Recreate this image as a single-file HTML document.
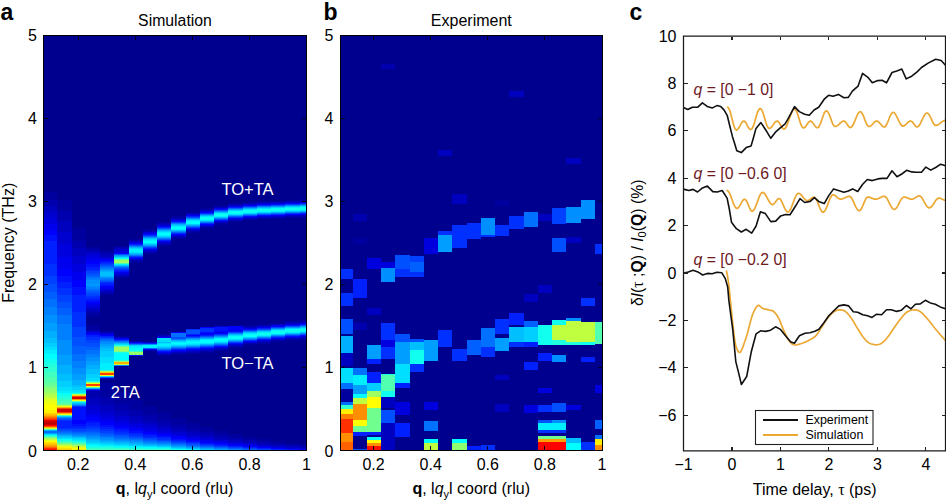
<!DOCTYPE html>
<html><head><meta charset="utf-8"><style>
html,body{margin:0;padding:0;background:#fff;width:946px;height:503px;overflow:hidden}
svg{display:block}
text{font-family:"Liberation Sans",sans-serif}
</style></head><body>
<svg width="946" height="503" viewBox="0 0 946 503" shape-rendering="crispEdges">
<rect x="43" y="35" width="264" height="416" fill="#00008f"/>
<rect x="43.00" y="192" width="14.25" height="8" fill="#00009f"/>
<rect x="43.00" y="200" width="14.25" height="6" fill="#0000af"/>
<rect x="43.00" y="206" width="14.25" height="6" fill="#0000bf"/>
<rect x="43.00" y="212" width="14.25" height="6" fill="#0000cf"/>
<rect x="43.00" y="218" width="14.25" height="6" fill="#0000df"/>
<rect x="43.00" y="224" width="14.25" height="6" fill="#0000ef"/>
<rect x="43.00" y="230" width="14.25" height="5" fill="#0000ff"/>
<rect x="43.00" y="235" width="14.25" height="6" fill="#0010ff"/>
<rect x="43.00" y="241" width="14.25" height="23" fill="#0020ff"/>
<rect x="43.00" y="264" width="14.25" height="12" fill="#0030ff"/>
<rect x="43.00" y="276" width="14.25" height="8" fill="#0040ff"/>
<rect x="43.00" y="284" width="14.25" height="8" fill="#0050ff"/>
<rect x="43.00" y="292" width="14.25" height="7" fill="#0060ff"/>
<rect x="43.00" y="299" width="14.25" height="8" fill="#0070ff"/>
<rect x="43.00" y="307" width="14.25" height="8" fill="#0080ff"/>
<rect x="43.00" y="315" width="14.25" height="8" fill="#008fff"/>
<rect x="43.00" y="323" width="14.25" height="8" fill="#009fff"/>
<rect x="43.00" y="331" width="14.25" height="7" fill="#00afff"/>
<rect x="43.00" y="338" width="14.25" height="5" fill="#00bfff"/>
<rect x="43.00" y="343" width="14.25" height="4" fill="#00cfff"/>
<rect x="43.00" y="347" width="14.25" height="3" fill="#00dfff"/>
<rect x="43.00" y="350" width="14.25" height="4" fill="#00efff"/>
<rect x="43.00" y="354" width="14.25" height="5" fill="#00ffff"/>
<rect x="43.00" y="359" width="14.25" height="4" fill="#10ffef"/>
<rect x="43.00" y="363" width="14.25" height="4" fill="#20ffdf"/>
<rect x="43.00" y="367" width="14.25" height="5" fill="#30ffcf"/>
<rect x="43.00" y="372" width="14.25" height="5" fill="#40ffbf"/>
<rect x="43.00" y="377" width="14.25" height="5" fill="#50ffaf"/>
<rect x="43.00" y="382" width="14.25" height="3" fill="#60ff9f"/>
<rect x="43.00" y="385" width="14.25" height="2" fill="#70ff8f"/>
<rect x="43.00" y="387" width="14.25" height="2" fill="#80ff80"/>
<rect x="43.00" y="389" width="14.25" height="3" fill="#8fff70"/>
<rect x="43.00" y="392" width="14.25" height="2" fill="#9fff60"/>
<rect x="43.00" y="394" width="14.25" height="2" fill="#afff50"/>
<rect x="43.00" y="396" width="14.25" height="2" fill="#bfff40"/>
<rect x="43.00" y="398" width="14.25" height="1" fill="#cfff30"/>
<rect x="43.00" y="399" width="14.25" height="2" fill="#dfff20"/>
<rect x="43.00" y="401" width="14.25" height="4" fill="#efff10"/>
<rect x="43.00" y="405" width="14.25" height="5" fill="#ffff00"/>
<rect x="43.00" y="410" width="14.25" height="3" fill="#ffef00"/>
<rect x="43.00" y="413" width="14.25" height="1" fill="#ffcf00"/>
<rect x="43.00" y="414" width="14.25" height="1" fill="#ffbf00"/>
<rect x="43.00" y="415" width="14.25" height="1" fill="#ffaf00"/>
<rect x="43.00" y="416" width="14.25" height="1" fill="#ff8f00"/>
<rect x="43.00" y="417" width="14.25" height="1" fill="#ff7000"/>
<rect x="43.00" y="418" width="14.25" height="1" fill="#ff5000"/>
<rect x="43.00" y="419" width="14.25" height="1" fill="#ff3000"/>
<rect x="43.00" y="420" width="14.25" height="1" fill="#ef0000"/>
<rect x="43.00" y="421" width="14.25" height="1" fill="#cf0000"/>
<rect x="43.00" y="422" width="14.25" height="2" fill="#bf0000"/>
<rect x="43.00" y="424" width="14.25" height="1" fill="#cf0000"/>
<rect x="43.00" y="425" width="14.25" height="1" fill="#ff0000"/>
<rect x="43.00" y="426" width="14.25" height="1" fill="#ff5000"/>
<rect x="43.00" y="427" width="14.25" height="1" fill="#ffaf00"/>
<rect x="43.00" y="428" width="14.25" height="1" fill="#cfff30"/>
<rect x="43.00" y="429" width="14.25" height="1" fill="#40ffbf"/>
<rect x="43.00" y="430" width="14.25" height="1" fill="#00afff"/>
<rect x="43.00" y="431" width="14.25" height="2" fill="#0070ff"/>
<rect x="43.00" y="433" width="14.25" height="1" fill="#009fff"/>
<rect x="43.00" y="434" width="14.25" height="1" fill="#00dfff"/>
<rect x="43.00" y="435" width="14.25" height="1" fill="#10ffef"/>
<rect x="43.00" y="436" width="14.25" height="1" fill="#40ffbf"/>
<rect x="43.00" y="437" width="14.25" height="1" fill="#70ff8f"/>
<rect x="43.00" y="438" width="14.25" height="1" fill="#9fff60"/>
<rect x="43.00" y="439" width="14.25" height="1" fill="#bfff40"/>
<rect x="43.00" y="440" width="14.25" height="1" fill="#dfff20"/>
<rect x="43.00" y="441" width="14.25" height="1" fill="#ffff00"/>
<rect x="43.00" y="442" width="14.25" height="1" fill="#ffdf00"/>
<rect x="43.00" y="443" width="14.25" height="1" fill="#ffcf00"/>
<rect x="43.00" y="444" width="14.25" height="1" fill="#ffbf00"/>
<rect x="43.00" y="445" width="14.25" height="1" fill="#ff9f00"/>
<rect x="43.00" y="446" width="14.25" height="1" fill="#ff8f00"/>
<rect x="43.00" y="447" width="14.25" height="1" fill="#ff6000"/>
<rect x="43.00" y="448" width="14.25" height="1" fill="#ff3000"/>
<rect x="43.00" y="449" width="14.25" height="1" fill="#ff1000"/>
<rect x="43.00" y="450" width="14.25" height="1" fill="#ff0000"/>
<rect x="57.25" y="200" width="14.25" height="11" fill="#00009f"/>
<rect x="57.25" y="211" width="14.25" height="10" fill="#0000af"/>
<rect x="57.25" y="221" width="14.25" height="11" fill="#0000bf"/>
<rect x="57.25" y="232" width="14.25" height="12" fill="#0000cf"/>
<rect x="57.25" y="244" width="14.25" height="13" fill="#0000df"/>
<rect x="57.25" y="257" width="14.25" height="12" fill="#0000ef"/>
<rect x="57.25" y="269" width="14.25" height="7" fill="#0000ff"/>
<rect x="57.25" y="276" width="14.25" height="6" fill="#0010ff"/>
<rect x="57.25" y="282" width="14.25" height="6" fill="#0020ff"/>
<rect x="57.25" y="288" width="14.25" height="7" fill="#0030ff"/>
<rect x="57.25" y="295" width="14.25" height="7" fill="#0040ff"/>
<rect x="57.25" y="302" width="14.25" height="6" fill="#0050ff"/>
<rect x="57.25" y="308" width="14.25" height="7" fill="#0060ff"/>
<rect x="57.25" y="315" width="14.25" height="9" fill="#0070ff"/>
<rect x="57.25" y="324" width="14.25" height="16" fill="#0080ff"/>
<rect x="57.25" y="340" width="14.25" height="15" fill="#008fff"/>
<rect x="57.25" y="355" width="14.25" height="10" fill="#009fff"/>
<rect x="57.25" y="365" width="14.25" height="9" fill="#00afff"/>
<rect x="57.25" y="374" width="14.25" height="7" fill="#00bfff"/>
<rect x="57.25" y="381" width="14.25" height="6" fill="#00cfff"/>
<rect x="57.25" y="387" width="14.25" height="4" fill="#00dfff"/>
<rect x="57.25" y="391" width="14.25" height="2" fill="#00efff"/>
<rect x="57.25" y="393" width="14.25" height="1" fill="#00ffff"/>
<rect x="57.25" y="394" width="14.25" height="2" fill="#10ffef"/>
<rect x="57.25" y="396" width="14.25" height="2" fill="#20ffdf"/>
<rect x="57.25" y="398" width="14.25" height="2" fill="#30ffcf"/>
<rect x="57.25" y="400" width="14.25" height="2" fill="#40ffbf"/>
<rect x="57.25" y="402" width="14.25" height="2" fill="#50ffaf"/>
<rect x="57.25" y="404" width="14.25" height="1" fill="#70ff8f"/>
<rect x="57.25" y="405" width="14.25" height="1" fill="#afff50"/>
<rect x="57.25" y="406" width="14.25" height="1" fill="#efff10"/>
<rect x="57.25" y="407" width="14.25" height="1" fill="#ffaf00"/>
<rect x="57.25" y="408" width="14.25" height="1" fill="#ff4000"/>
<rect x="57.25" y="409" width="14.25" height="3" fill="#cf0000"/>
<rect x="57.25" y="412" width="14.25" height="1" fill="#ff4000"/>
<rect x="57.25" y="413" width="14.25" height="1" fill="#ffaf00"/>
<rect x="57.25" y="414" width="14.25" height="1" fill="#efff10"/>
<rect x="57.25" y="415" width="14.25" height="1" fill="#50ffaf"/>
<rect x="57.25" y="416" width="14.25" height="1" fill="#00cfff"/>
<rect x="57.25" y="417" width="14.25" height="1" fill="#008fff"/>
<rect x="57.25" y="418" width="14.25" height="1" fill="#0060ff"/>
<rect x="57.25" y="419" width="14.25" height="1" fill="#0050ff"/>
<rect x="57.25" y="420" width="14.25" height="1" fill="#0030ff"/>
<rect x="57.25" y="421" width="14.25" height="7" fill="#0020ff"/>
<rect x="57.25" y="428" width="14.25" height="1" fill="#0030ff"/>
<rect x="57.25" y="429" width="14.25" height="1" fill="#0040ff"/>
<rect x="57.25" y="430" width="14.25" height="1" fill="#0050ff"/>
<rect x="57.25" y="431" width="14.25" height="1" fill="#0060ff"/>
<rect x="57.25" y="432" width="14.25" height="1" fill="#0070ff"/>
<rect x="57.25" y="433" width="14.25" height="1" fill="#0080ff"/>
<rect x="57.25" y="434" width="14.25" height="1" fill="#008fff"/>
<rect x="57.25" y="435" width="14.25" height="1" fill="#00afff"/>
<rect x="57.25" y="436" width="14.25" height="1" fill="#00bfff"/>
<rect x="57.25" y="437" width="14.25" height="1" fill="#00cfff"/>
<rect x="57.25" y="438" width="14.25" height="1" fill="#00dfff"/>
<rect x="57.25" y="439" width="14.25" height="1" fill="#00ffff"/>
<rect x="57.25" y="440" width="14.25" height="1" fill="#10ffef"/>
<rect x="57.25" y="441" width="14.25" height="1" fill="#30ffcf"/>
<rect x="57.25" y="442" width="14.25" height="1" fill="#50ffaf"/>
<rect x="57.25" y="443" width="14.25" height="1" fill="#70ff8f"/>
<rect x="57.25" y="444" width="14.25" height="1" fill="#9fff60"/>
<rect x="57.25" y="445" width="14.25" height="1" fill="#bfff40"/>
<rect x="57.25" y="446" width="14.25" height="1" fill="#efff10"/>
<rect x="57.25" y="447" width="14.25" height="1" fill="#ffef00"/>
<rect x="57.25" y="448" width="14.25" height="1" fill="#ffdf00"/>
<rect x="57.25" y="449" width="14.25" height="1" fill="#ffcf00"/>
<rect x="57.25" y="450" width="14.25" height="1" fill="#ffbf00"/>
<rect x="71.50" y="228" width="14.25" height="13" fill="#00009f"/>
<rect x="71.50" y="241" width="14.25" height="7" fill="#0000af"/>
<rect x="71.50" y="248" width="14.25" height="8" fill="#0000bf"/>
<rect x="71.50" y="256" width="14.25" height="8" fill="#0000cf"/>
<rect x="71.50" y="264" width="14.25" height="8" fill="#0000df"/>
<rect x="71.50" y="272" width="14.25" height="8" fill="#0000ef"/>
<rect x="71.50" y="280" width="14.25" height="7" fill="#0000ff"/>
<rect x="71.50" y="287" width="14.25" height="8" fill="#0010ff"/>
<rect x="71.50" y="295" width="14.25" height="17" fill="#0020ff"/>
<rect x="71.50" y="312" width="14.25" height="15" fill="#0030ff"/>
<rect x="71.50" y="327" width="14.25" height="10" fill="#0040ff"/>
<rect x="71.50" y="337" width="14.25" height="9" fill="#0050ff"/>
<rect x="71.50" y="346" width="14.25" height="8" fill="#0060ff"/>
<rect x="71.50" y="354" width="14.25" height="7" fill="#0070ff"/>
<rect x="71.50" y="361" width="14.25" height="7" fill="#0080ff"/>
<rect x="71.50" y="368" width="14.25" height="6" fill="#008fff"/>
<rect x="71.50" y="374" width="14.25" height="6" fill="#009fff"/>
<rect x="71.50" y="380" width="14.25" height="5" fill="#00afff"/>
<rect x="71.50" y="385" width="14.25" height="2" fill="#00bfff"/>
<rect x="71.50" y="387" width="14.25" height="3" fill="#00cfff"/>
<rect x="71.50" y="390" width="14.25" height="2" fill="#00dfff"/>
<rect x="71.50" y="392" width="14.25" height="1" fill="#00efff"/>
<rect x="71.50" y="393" width="14.25" height="1" fill="#30ffcf"/>
<rect x="71.50" y="394" width="14.25" height="1" fill="#afff50"/>
<rect x="71.50" y="395" width="14.25" height="1" fill="#ffcf00"/>
<rect x="71.50" y="396" width="14.25" height="1" fill="#ff4000"/>
<rect x="71.50" y="397" width="14.25" height="2" fill="#cf0000"/>
<rect x="71.50" y="399" width="14.25" height="1" fill="#ff8f00"/>
<rect x="71.50" y="400" width="14.25" height="1" fill="#efff10"/>
<rect x="71.50" y="401" width="14.25" height="1" fill="#50ffaf"/>
<rect x="71.50" y="402" width="14.25" height="1" fill="#00dfff"/>
<rect x="71.50" y="403" width="14.25" height="1" fill="#00bfff"/>
<rect x="71.50" y="404" width="14.25" height="1" fill="#009fff"/>
<rect x="71.50" y="405" width="14.25" height="1" fill="#0070ff"/>
<rect x="71.50" y="406" width="14.25" height="1" fill="#0030ff"/>
<rect x="71.50" y="407" width="14.25" height="13" fill="#0010ff"/>
<rect x="71.50" y="420" width="14.25" height="4" fill="#0000ff"/>
<rect x="71.50" y="424" width="14.25" height="2" fill="#0010ff"/>
<rect x="71.50" y="426" width="14.25" height="2" fill="#0020ff"/>
<rect x="71.50" y="428" width="14.25" height="1" fill="#0030ff"/>
<rect x="71.50" y="429" width="14.25" height="2" fill="#0040ff"/>
<rect x="71.50" y="431" width="14.25" height="1" fill="#0050ff"/>
<rect x="71.50" y="432" width="14.25" height="1" fill="#0060ff"/>
<rect x="71.50" y="433" width="14.25" height="1" fill="#0070ff"/>
<rect x="71.50" y="434" width="14.25" height="1" fill="#0080ff"/>
<rect x="71.50" y="435" width="14.25" height="1" fill="#008fff"/>
<rect x="71.50" y="436" width="14.25" height="1" fill="#009fff"/>
<rect x="71.50" y="437" width="14.25" height="1" fill="#00bfff"/>
<rect x="71.50" y="438" width="14.25" height="1" fill="#00cfff"/>
<rect x="71.50" y="439" width="14.25" height="1" fill="#00dfff"/>
<rect x="71.50" y="440" width="14.25" height="1" fill="#00efff"/>
<rect x="71.50" y="441" width="14.25" height="1" fill="#10ffef"/>
<rect x="71.50" y="442" width="14.25" height="1" fill="#30ffcf"/>
<rect x="71.50" y="443" width="14.25" height="1" fill="#50ffaf"/>
<rect x="71.50" y="444" width="14.25" height="1" fill="#70ff8f"/>
<rect x="71.50" y="445" width="14.25" height="1" fill="#9fff60"/>
<rect x="71.50" y="446" width="14.25" height="1" fill="#bfff40"/>
<rect x="71.50" y="447" width="14.25" height="1" fill="#dfff20"/>
<rect x="71.50" y="448" width="14.25" height="1" fill="#ffff00"/>
<rect x="71.50" y="449" width="14.25" height="1" fill="#ffef00"/>
<rect x="71.50" y="450" width="14.25" height="1" fill="#ffdf00"/>
<rect x="85.75" y="247" width="14.25" height="2" fill="#00009f"/>
<rect x="85.75" y="249" width="14.25" height="2" fill="#0000af"/>
<rect x="85.75" y="251" width="14.25" height="2" fill="#0000bf"/>
<rect x="85.75" y="253" width="14.25" height="2" fill="#0000cf"/>
<rect x="85.75" y="255" width="14.25" height="3" fill="#0000df"/>
<rect x="85.75" y="258" width="14.25" height="3" fill="#0000ef"/>
<rect x="85.75" y="261" width="14.25" height="3" fill="#0000ff"/>
<rect x="85.75" y="264" width="14.25" height="3" fill="#0010ff"/>
<rect x="85.75" y="267" width="14.25" height="3" fill="#0020ff"/>
<rect x="85.75" y="270" width="14.25" height="1" fill="#0030ff"/>
<rect x="85.75" y="271" width="14.25" height="2" fill="#0040ff"/>
<rect x="85.75" y="273" width="14.25" height="2" fill="#0050ff"/>
<rect x="85.75" y="275" width="14.25" height="2" fill="#0060ff"/>
<rect x="85.75" y="277" width="14.25" height="1" fill="#0070ff"/>
<rect x="85.75" y="278" width="14.25" height="2" fill="#0080ff"/>
<rect x="85.75" y="280" width="14.25" height="4" fill="#008fff"/>
<rect x="85.75" y="284" width="14.25" height="1" fill="#009fff"/>
<rect x="85.75" y="285" width="14.25" height="2" fill="#008fff"/>
<rect x="85.75" y="287" width="14.25" height="2" fill="#0080ff"/>
<rect x="85.75" y="289" width="14.25" height="1" fill="#0070ff"/>
<rect x="85.75" y="290" width="14.25" height="2" fill="#0060ff"/>
<rect x="85.75" y="292" width="14.25" height="2" fill="#0050ff"/>
<rect x="85.75" y="294" width="14.25" height="2" fill="#0040ff"/>
<rect x="85.75" y="296" width="14.25" height="2" fill="#0030ff"/>
<rect x="85.75" y="298" width="14.25" height="2" fill="#0020ff"/>
<rect x="85.75" y="300" width="14.25" height="2" fill="#0010ff"/>
<rect x="85.75" y="302" width="14.25" height="1" fill="#0000ff"/>
<rect x="85.75" y="303" width="14.25" height="2" fill="#0000ef"/>
<rect x="85.75" y="305" width="14.25" height="2" fill="#0000df"/>
<rect x="85.75" y="307" width="14.25" height="2" fill="#0000cf"/>
<rect x="85.75" y="309" width="14.25" height="2" fill="#0000bf"/>
<rect x="85.75" y="311" width="14.25" height="2" fill="#0000af"/>
<rect x="85.75" y="313" width="14.25" height="4" fill="#00009f"/>
<rect x="85.75" y="325" width="14.25" height="5" fill="#00009f"/>
<rect x="85.75" y="330" width="14.25" height="1" fill="#0000af"/>
<rect x="85.75" y="331" width="14.25" height="1" fill="#0000cf"/>
<rect x="85.75" y="332" width="14.25" height="1" fill="#0000df"/>
<rect x="85.75" y="333" width="14.25" height="1" fill="#0000ef"/>
<rect x="85.75" y="334" width="14.25" height="1" fill="#0000ff"/>
<rect x="85.75" y="335" width="14.25" height="2" fill="#0020ff"/>
<rect x="85.75" y="337" width="14.25" height="3" fill="#0030ff"/>
<rect x="85.75" y="340" width="14.25" height="3" fill="#0040ff"/>
<rect x="85.75" y="343" width="14.25" height="4" fill="#0050ff"/>
<rect x="85.75" y="347" width="14.25" height="3" fill="#0060ff"/>
<rect x="85.75" y="350" width="14.25" height="4" fill="#0070ff"/>
<rect x="85.75" y="354" width="14.25" height="3" fill="#0080ff"/>
<rect x="85.75" y="357" width="14.25" height="4" fill="#008fff"/>
<rect x="85.75" y="361" width="14.25" height="4" fill="#009fff"/>
<rect x="85.75" y="365" width="14.25" height="4" fill="#00afff"/>
<rect x="85.75" y="369" width="14.25" height="5" fill="#00bfff"/>
<rect x="85.75" y="374" width="14.25" height="4" fill="#00cfff"/>
<rect x="85.75" y="378" width="14.25" height="3" fill="#00dfff"/>
<rect x="85.75" y="381" width="14.25" height="1" fill="#20ffdf"/>
<rect x="85.75" y="382" width="14.25" height="1" fill="#80ff80"/>
<rect x="85.75" y="383" width="14.25" height="1" fill="#efff10"/>
<rect x="85.75" y="384" width="14.25" height="2" fill="#ff4000"/>
<rect x="85.75" y="386" width="14.25" height="1" fill="#efff10"/>
<rect x="85.75" y="387" width="14.25" height="1" fill="#50ffaf"/>
<rect x="85.75" y="388" width="14.25" height="1" fill="#00afff"/>
<rect x="85.75" y="389" width="14.25" height="1" fill="#0030ff"/>
<rect x="85.75" y="390" width="14.25" height="1" fill="#0000cf"/>
<rect x="85.75" y="391" width="14.25" height="7" fill="#0000af"/>
<rect x="85.75" y="398" width="14.25" height="7" fill="#0000bf"/>
<rect x="85.75" y="405" width="14.25" height="5" fill="#0000cf"/>
<rect x="85.75" y="410" width="14.25" height="4" fill="#0000df"/>
<rect x="85.75" y="414" width="14.25" height="3" fill="#0000ef"/>
<rect x="85.75" y="417" width="14.25" height="4" fill="#0000ff"/>
<rect x="85.75" y="421" width="14.25" height="2" fill="#0010ff"/>
<rect x="85.75" y="423" width="14.25" height="3" fill="#0020ff"/>
<rect x="85.75" y="426" width="14.25" height="2" fill="#0030ff"/>
<rect x="85.75" y="428" width="14.25" height="2" fill="#0040ff"/>
<rect x="85.75" y="430" width="14.25" height="2" fill="#0050ff"/>
<rect x="85.75" y="432" width="14.25" height="1" fill="#0060ff"/>
<rect x="85.75" y="433" width="14.25" height="2" fill="#0070ff"/>
<rect x="85.75" y="435" width="14.25" height="1" fill="#0080ff"/>
<rect x="85.75" y="436" width="14.25" height="2" fill="#008fff"/>
<rect x="85.75" y="438" width="14.25" height="1" fill="#009fff"/>
<rect x="85.75" y="439" width="14.25" height="1" fill="#00afff"/>
<rect x="85.75" y="440" width="14.25" height="2" fill="#00bfff"/>
<rect x="85.75" y="442" width="14.25" height="1" fill="#00cfff"/>
<rect x="85.75" y="443" width="14.25" height="1" fill="#00dfff"/>
<rect x="85.75" y="444" width="14.25" height="1" fill="#00efff"/>
<rect x="85.75" y="445" width="14.25" height="1" fill="#00ffff"/>
<rect x="85.75" y="446" width="14.25" height="1" fill="#10ffef"/>
<rect x="85.75" y="447" width="14.25" height="1" fill="#20ffdf"/>
<rect x="85.75" y="448" width="14.25" height="1" fill="#30ffcf"/>
<rect x="85.75" y="449" width="14.25" height="1" fill="#50ffaf"/>
<rect x="85.75" y="450" width="14.25" height="1" fill="#70ff8f"/>
<rect x="100.00" y="250" width="14.25" height="2" fill="#00009f"/>
<rect x="100.00" y="252" width="14.25" height="3" fill="#0000af"/>
<rect x="100.00" y="255" width="14.25" height="2" fill="#0000bf"/>
<rect x="100.00" y="257" width="14.25" height="1" fill="#0000cf"/>
<rect x="100.00" y="258" width="14.25" height="1" fill="#0000df"/>
<rect x="100.00" y="259" width="14.25" height="1" fill="#0000ef"/>
<rect x="100.00" y="260" width="14.25" height="1" fill="#0000ff"/>
<rect x="100.00" y="261" width="14.25" height="1" fill="#0010ff"/>
<rect x="100.00" y="262" width="14.25" height="1" fill="#0020ff"/>
<rect x="100.00" y="263" width="14.25" height="1" fill="#0030ff"/>
<rect x="100.00" y="264" width="14.25" height="1" fill="#0040ff"/>
<rect x="100.00" y="265" width="14.25" height="1" fill="#0050ff"/>
<rect x="100.00" y="266" width="14.25" height="1" fill="#0060ff"/>
<rect x="100.00" y="267" width="14.25" height="1" fill="#0070ff"/>
<rect x="100.00" y="268" width="14.25" height="1" fill="#0080ff"/>
<rect x="100.00" y="269" width="14.25" height="1" fill="#008fff"/>
<rect x="100.00" y="270" width="14.25" height="1" fill="#009fff"/>
<rect x="100.00" y="271" width="14.25" height="1" fill="#00afff"/>
<rect x="100.00" y="272" width="14.25" height="4" fill="#00bfff"/>
<rect x="100.00" y="276" width="14.25" height="1" fill="#00afff"/>
<rect x="100.00" y="277" width="14.25" height="1" fill="#008fff"/>
<rect x="100.00" y="278" width="14.25" height="1" fill="#0080ff"/>
<rect x="100.00" y="279" width="14.25" height="1" fill="#0070ff"/>
<rect x="100.00" y="280" width="14.25" height="1" fill="#0060ff"/>
<rect x="100.00" y="281" width="14.25" height="1" fill="#0050ff"/>
<rect x="100.00" y="282" width="14.25" height="1" fill="#0030ff"/>
<rect x="100.00" y="283" width="14.25" height="2" fill="#0020ff"/>
<rect x="100.00" y="285" width="14.25" height="1" fill="#0010ff"/>
<rect x="100.00" y="286" width="14.25" height="1" fill="#0000ff"/>
<rect x="100.00" y="287" width="14.25" height="2" fill="#0000ef"/>
<rect x="100.00" y="289" width="14.25" height="1" fill="#0000df"/>
<rect x="100.00" y="290" width="14.25" height="1" fill="#0000cf"/>
<rect x="100.00" y="291" width="14.25" height="1" fill="#0000bf"/>
<rect x="100.00" y="292" width="14.25" height="2" fill="#0000af"/>
<rect x="100.00" y="294" width="14.25" height="1" fill="#00009f"/>
<rect x="100.00" y="331" width="14.25" height="1" fill="#00009f"/>
<rect x="100.00" y="332" width="14.25" height="1" fill="#0000bf"/>
<rect x="100.00" y="333" width="14.25" height="1" fill="#0000cf"/>
<rect x="100.00" y="334" width="14.25" height="1" fill="#0000df"/>
<rect x="100.00" y="335" width="14.25" height="1" fill="#0000ff"/>
<rect x="100.00" y="336" width="14.25" height="1" fill="#0020ff"/>
<rect x="100.00" y="337" width="14.25" height="1" fill="#0030ff"/>
<rect x="100.00" y="338" width="14.25" height="1" fill="#0050ff"/>
<rect x="100.00" y="339" width="14.25" height="1" fill="#0060ff"/>
<rect x="100.00" y="340" width="14.25" height="1" fill="#0070ff"/>
<rect x="100.00" y="341" width="14.25" height="1" fill="#0080ff"/>
<rect x="100.00" y="342" width="14.25" height="2" fill="#008fff"/>
<rect x="100.00" y="344" width="14.25" height="2" fill="#009fff"/>
<rect x="100.00" y="346" width="14.25" height="2" fill="#00afff"/>
<rect x="100.00" y="348" width="14.25" height="3" fill="#00bfff"/>
<rect x="100.00" y="351" width="14.25" height="6" fill="#00cfff"/>
<rect x="100.00" y="357" width="14.25" height="6" fill="#00dfff"/>
<rect x="100.00" y="363" width="14.25" height="7" fill="#00efff"/>
<rect x="100.00" y="370" width="14.25" height="1" fill="#30ffcf"/>
<rect x="100.00" y="371" width="14.25" height="1" fill="#afff50"/>
<rect x="100.00" y="372" width="14.25" height="1" fill="#ffcf00"/>
<rect x="100.00" y="373" width="14.25" height="2" fill="#ff4000"/>
<rect x="100.00" y="375" width="14.25" height="1" fill="#efff10"/>
<rect x="100.00" y="376" width="14.25" height="1" fill="#00dfff"/>
<rect x="100.00" y="377" width="14.25" height="1" fill="#0050ff"/>
<rect x="100.00" y="378" width="14.25" height="1" fill="#0000cf"/>
<rect x="100.00" y="383" width="14.25" height="14" fill="#00009f"/>
<rect x="100.00" y="397" width="14.25" height="8" fill="#0000af"/>
<rect x="100.00" y="405" width="14.25" height="6" fill="#0000bf"/>
<rect x="100.00" y="411" width="14.25" height="4" fill="#0000cf"/>
<rect x="100.00" y="415" width="14.25" height="4" fill="#0000df"/>
<rect x="100.00" y="419" width="14.25" height="3" fill="#0000ef"/>
<rect x="100.00" y="422" width="14.25" height="3" fill="#0000ff"/>
<rect x="100.00" y="425" width="14.25" height="2" fill="#0010ff"/>
<rect x="100.00" y="427" width="14.25" height="2" fill="#0020ff"/>
<rect x="100.00" y="429" width="14.25" height="2" fill="#0030ff"/>
<rect x="100.00" y="431" width="14.25" height="2" fill="#0040ff"/>
<rect x="100.00" y="433" width="14.25" height="1" fill="#0050ff"/>
<rect x="100.00" y="434" width="14.25" height="2" fill="#0060ff"/>
<rect x="100.00" y="436" width="14.25" height="1" fill="#0070ff"/>
<rect x="100.00" y="437" width="14.25" height="1" fill="#0080ff"/>
<rect x="100.00" y="438" width="14.25" height="2" fill="#008fff"/>
<rect x="100.00" y="440" width="14.25" height="1" fill="#009fff"/>
<rect x="100.00" y="441" width="14.25" height="1" fill="#00afff"/>
<rect x="100.00" y="442" width="14.25" height="1" fill="#00bfff"/>
<rect x="100.00" y="443" width="14.25" height="1" fill="#00cfff"/>
<rect x="100.00" y="444" width="14.25" height="1" fill="#00dfff"/>
<rect x="100.00" y="445" width="14.25" height="1" fill="#00efff"/>
<rect x="100.00" y="446" width="14.25" height="1" fill="#10ffef"/>
<rect x="100.00" y="447" width="14.25" height="1" fill="#20ffdf"/>
<rect x="100.00" y="448" width="14.25" height="1" fill="#30ffcf"/>
<rect x="100.00" y="449" width="14.25" height="1" fill="#40ffbf"/>
<rect x="100.00" y="450" width="14.25" height="1" fill="#70ff8f"/>
<rect x="114.25" y="246" width="14.25" height="1" fill="#00009f"/>
<rect x="114.25" y="247" width="14.25" height="1" fill="#0000af"/>
<rect x="114.25" y="248" width="14.25" height="1" fill="#0000bf"/>
<rect x="114.25" y="249" width="14.25" height="2" fill="#0000cf"/>
<rect x="114.25" y="251" width="14.25" height="2" fill="#0000df"/>
<rect x="114.25" y="253" width="14.25" height="1" fill="#0000ff"/>
<rect x="114.25" y="254" width="14.25" height="1" fill="#0050ff"/>
<rect x="114.25" y="255" width="14.25" height="1" fill="#008fff"/>
<rect x="114.25" y="256" width="14.25" height="1" fill="#00afff"/>
<rect x="114.25" y="257" width="14.25" height="1" fill="#00dfff"/>
<rect x="114.25" y="258" width="14.25" height="1" fill="#10ffef"/>
<rect x="114.25" y="259" width="14.25" height="1" fill="#60ff9f"/>
<rect x="114.25" y="260" width="14.25" height="3" fill="#9fff60"/>
<rect x="114.25" y="263" width="14.25" height="1" fill="#50ffaf"/>
<rect x="114.25" y="264" width="14.25" height="1" fill="#00efff"/>
<rect x="114.25" y="265" width="14.25" height="1" fill="#00bfff"/>
<rect x="114.25" y="266" width="14.25" height="1" fill="#008fff"/>
<rect x="114.25" y="267" width="14.25" height="1" fill="#0060ff"/>
<rect x="114.25" y="268" width="14.25" height="1" fill="#0050ff"/>
<rect x="114.25" y="269" width="14.25" height="1" fill="#0030ff"/>
<rect x="114.25" y="270" width="14.25" height="1" fill="#0020ff"/>
<rect x="114.25" y="271" width="14.25" height="1" fill="#0010ff"/>
<rect x="114.25" y="272" width="14.25" height="1" fill="#0000ef"/>
<rect x="114.25" y="273" width="14.25" height="1" fill="#0000df"/>
<rect x="114.25" y="274" width="14.25" height="1" fill="#0000cf"/>
<rect x="114.25" y="275" width="14.25" height="1" fill="#0000bf"/>
<rect x="114.25" y="276" width="14.25" height="1" fill="#0000af"/>
<rect x="114.25" y="277" width="14.25" height="1" fill="#00009f"/>
<rect x="114.25" y="336" width="14.25" height="1" fill="#00009f"/>
<rect x="114.25" y="337" width="14.25" height="1" fill="#0000bf"/>
<rect x="114.25" y="338" width="14.25" height="1" fill="#0000ef"/>
<rect x="114.25" y="339" width="14.25" height="1" fill="#0010ff"/>
<rect x="114.25" y="340" width="14.25" height="1" fill="#0040ff"/>
<rect x="114.25" y="341" width="14.25" height="1" fill="#0070ff"/>
<rect x="114.25" y="342" width="14.25" height="1" fill="#008fff"/>
<rect x="114.25" y="343" width="14.25" height="1" fill="#00bfff"/>
<rect x="114.25" y="344" width="14.25" height="1" fill="#00dfff"/>
<rect x="114.25" y="345" width="14.25" height="1" fill="#20ffdf"/>
<rect x="114.25" y="346" width="14.25" height="1" fill="#60ff9f"/>
<rect x="114.25" y="347" width="14.25" height="4" fill="#9fff60"/>
<rect x="114.25" y="351" width="14.25" height="1" fill="#80ff80"/>
<rect x="114.25" y="352" width="14.25" height="1" fill="#20ffdf"/>
<rect x="114.25" y="353" width="14.25" height="7" fill="#00ffff"/>
<rect x="114.25" y="360" width="14.25" height="1" fill="#30ffcf"/>
<rect x="114.25" y="361" width="14.25" height="1" fill="#8fff70"/>
<rect x="114.25" y="362" width="14.25" height="2" fill="#ffaf00"/>
<rect x="114.25" y="364" width="14.25" height="1" fill="#cfff30"/>
<rect x="114.25" y="365" width="14.25" height="1" fill="#0080ff"/>
<rect x="114.25" y="392" width="14.25" height="12" fill="#00009f"/>
<rect x="114.25" y="404" width="14.25" height="7" fill="#0000af"/>
<rect x="114.25" y="411" width="14.25" height="5" fill="#0000bf"/>
<rect x="114.25" y="416" width="14.25" height="4" fill="#0000cf"/>
<rect x="114.25" y="420" width="14.25" height="3" fill="#0000df"/>
<rect x="114.25" y="423" width="14.25" height="3" fill="#0000ef"/>
<rect x="114.25" y="426" width="14.25" height="2" fill="#0000ff"/>
<rect x="114.25" y="428" width="14.25" height="2" fill="#0010ff"/>
<rect x="114.25" y="430" width="14.25" height="2" fill="#0020ff"/>
<rect x="114.25" y="432" width="14.25" height="2" fill="#0030ff"/>
<rect x="114.25" y="434" width="14.25" height="1" fill="#0040ff"/>
<rect x="114.25" y="435" width="14.25" height="1" fill="#0050ff"/>
<rect x="114.25" y="436" width="14.25" height="2" fill="#0060ff"/>
<rect x="114.25" y="438" width="14.25" height="1" fill="#0070ff"/>
<rect x="114.25" y="439" width="14.25" height="1" fill="#0080ff"/>
<rect x="114.25" y="440" width="14.25" height="1" fill="#008fff"/>
<rect x="114.25" y="441" width="14.25" height="1" fill="#009fff"/>
<rect x="114.25" y="442" width="14.25" height="1" fill="#00afff"/>
<rect x="114.25" y="443" width="14.25" height="1" fill="#00bfff"/>
<rect x="114.25" y="444" width="14.25" height="1" fill="#00cfff"/>
<rect x="114.25" y="445" width="14.25" height="1" fill="#00dfff"/>
<rect x="114.25" y="446" width="14.25" height="1" fill="#00ffff"/>
<rect x="114.25" y="447" width="14.25" height="1" fill="#10ffef"/>
<rect x="114.25" y="448" width="14.25" height="1" fill="#30ffcf"/>
<rect x="114.25" y="449" width="14.25" height="1" fill="#40ffbf"/>
<rect x="114.25" y="450" width="14.25" height="1" fill="#70ff8f"/>
<rect x="128.50" y="239" width="14.25" height="1" fill="#00009f"/>
<rect x="128.50" y="240" width="14.25" height="1" fill="#0000af"/>
<rect x="128.50" y="241" width="14.25" height="1" fill="#0000bf"/>
<rect x="128.50" y="242" width="14.25" height="1" fill="#0000df"/>
<rect x="128.50" y="243" width="14.25" height="1" fill="#0000ff"/>
<rect x="128.50" y="244" width="14.25" height="1" fill="#0020ff"/>
<rect x="128.50" y="245" width="14.25" height="1" fill="#0050ff"/>
<rect x="128.50" y="246" width="14.25" height="1" fill="#0080ff"/>
<rect x="128.50" y="247" width="14.25" height="1" fill="#00afff"/>
<rect x="128.50" y="248" width="14.25" height="1" fill="#00cfff"/>
<rect x="128.50" y="249" width="14.25" height="3" fill="#00efff"/>
<rect x="128.50" y="252" width="14.25" height="1" fill="#00dfff"/>
<rect x="128.50" y="253" width="14.25" height="1" fill="#00bfff"/>
<rect x="128.50" y="254" width="14.25" height="1" fill="#009fff"/>
<rect x="128.50" y="255" width="14.25" height="1" fill="#0070ff"/>
<rect x="128.50" y="256" width="14.25" height="1" fill="#0040ff"/>
<rect x="128.50" y="257" width="14.25" height="1" fill="#0010ff"/>
<rect x="128.50" y="258" width="14.25" height="1" fill="#0000ef"/>
<rect x="128.50" y="259" width="14.25" height="1" fill="#0000cf"/>
<rect x="128.50" y="260" width="14.25" height="1" fill="#0000af"/>
<rect x="128.50" y="261" width="14.25" height="2" fill="#00009f"/>
<rect x="128.50" y="341" width="14.25" height="1" fill="#0000af"/>
<rect x="128.50" y="342" width="14.25" height="1" fill="#0000ef"/>
<rect x="128.50" y="343" width="14.25" height="1" fill="#0030ff"/>
<rect x="128.50" y="344" width="14.25" height="1" fill="#0080ff"/>
<rect x="128.50" y="345" width="14.25" height="1" fill="#00cfff"/>
<rect x="128.50" y="346" width="14.25" height="2" fill="#00efff"/>
<rect x="128.50" y="348" width="14.25" height="2" fill="#00ffff"/>
<rect x="128.50" y="350" width="14.25" height="1" fill="#10ffef"/>
<rect x="128.50" y="351" width="14.25" height="1" fill="#40ffbf"/>
<rect x="128.50" y="352" width="14.25" height="1" fill="#9fff60"/>
<rect x="128.50" y="353" width="14.25" height="2" fill="#8fff70"/>
<rect x="128.50" y="355" width="14.25" height="1" fill="#0010ff"/>
<rect x="128.50" y="400" width="14.25" height="10" fill="#00009f"/>
<rect x="128.50" y="410" width="14.25" height="6" fill="#0000af"/>
<rect x="128.50" y="416" width="14.25" height="5" fill="#0000bf"/>
<rect x="128.50" y="421" width="14.25" height="3" fill="#0000cf"/>
<rect x="128.50" y="424" width="14.25" height="3" fill="#0000df"/>
<rect x="128.50" y="427" width="14.25" height="2" fill="#0000ef"/>
<rect x="128.50" y="429" width="14.25" height="2" fill="#0000ff"/>
<rect x="128.50" y="431" width="14.25" height="2" fill="#0010ff"/>
<rect x="128.50" y="433" width="14.25" height="1" fill="#0020ff"/>
<rect x="128.50" y="434" width="14.25" height="2" fill="#0030ff"/>
<rect x="128.50" y="436" width="14.25" height="1" fill="#0040ff"/>
<rect x="128.50" y="437" width="14.25" height="1" fill="#0050ff"/>
<rect x="128.50" y="438" width="14.25" height="1" fill="#0060ff"/>
<rect x="128.50" y="439" width="14.25" height="1" fill="#0070ff"/>
<rect x="128.50" y="440" width="14.25" height="1" fill="#0080ff"/>
<rect x="128.50" y="441" width="14.25" height="1" fill="#008fff"/>
<rect x="128.50" y="442" width="14.25" height="1" fill="#009fff"/>
<rect x="128.50" y="443" width="14.25" height="1" fill="#00afff"/>
<rect x="128.50" y="444" width="14.25" height="1" fill="#00bfff"/>
<rect x="128.50" y="445" width="14.25" height="1" fill="#00cfff"/>
<rect x="128.50" y="446" width="14.25" height="1" fill="#00efff"/>
<rect x="128.50" y="447" width="14.25" height="1" fill="#00ffff"/>
<rect x="128.50" y="448" width="14.25" height="1" fill="#20ffdf"/>
<rect x="128.50" y="449" width="14.25" height="1" fill="#40ffbf"/>
<rect x="128.50" y="450" width="14.25" height="1" fill="#60ff9f"/>
<rect x="142.75" y="229" width="14.25" height="2" fill="#00009f"/>
<rect x="142.75" y="231" width="14.25" height="1" fill="#0000af"/>
<rect x="142.75" y="232" width="14.25" height="1" fill="#0000cf"/>
<rect x="142.75" y="233" width="14.25" height="1" fill="#0000ef"/>
<rect x="142.75" y="234" width="14.25" height="1" fill="#0010ff"/>
<rect x="142.75" y="235" width="14.25" height="1" fill="#0030ff"/>
<rect x="142.75" y="236" width="14.25" height="1" fill="#0060ff"/>
<rect x="142.75" y="237" width="14.25" height="1" fill="#008fff"/>
<rect x="142.75" y="238" width="14.25" height="1" fill="#00bfff"/>
<rect x="142.75" y="239" width="14.25" height="1" fill="#00dfff"/>
<rect x="142.75" y="240" width="14.25" height="1" fill="#00efff"/>
<rect x="142.75" y="241" width="14.25" height="2" fill="#00ffff"/>
<rect x="142.75" y="243" width="14.25" height="1" fill="#00dfff"/>
<rect x="142.75" y="244" width="14.25" height="1" fill="#00bfff"/>
<rect x="142.75" y="245" width="14.25" height="1" fill="#009fff"/>
<rect x="142.75" y="246" width="14.25" height="1" fill="#0070ff"/>
<rect x="142.75" y="247" width="14.25" height="1" fill="#0040ff"/>
<rect x="142.75" y="248" width="14.25" height="1" fill="#0020ff"/>
<rect x="142.75" y="249" width="14.25" height="1" fill="#0000ef"/>
<rect x="142.75" y="250" width="14.25" height="1" fill="#0000cf"/>
<rect x="142.75" y="251" width="14.25" height="1" fill="#0000bf"/>
<rect x="142.75" y="252" width="14.25" height="1" fill="#0000af"/>
<rect x="142.75" y="253" width="14.25" height="1" fill="#00009f"/>
<rect x="142.75" y="342" width="14.25" height="1" fill="#0000bf"/>
<rect x="142.75" y="343" width="14.25" height="1" fill="#0020ff"/>
<rect x="142.75" y="344" width="14.25" height="1" fill="#008fff"/>
<rect x="142.75" y="345" width="14.25" height="3" fill="#00efff"/>
<rect x="142.75" y="348" width="14.25" height="1" fill="#0060ff"/>
<rect x="142.75" y="349" width="14.25" height="1" fill="#0000ff"/>
<rect x="142.75" y="350" width="14.25" height="1" fill="#0000af"/>
<rect x="142.75" y="406" width="14.25" height="9" fill="#00009f"/>
<rect x="142.75" y="415" width="14.25" height="6" fill="#0000af"/>
<rect x="142.75" y="421" width="14.25" height="3" fill="#0000bf"/>
<rect x="142.75" y="424" width="14.25" height="3" fill="#0000cf"/>
<rect x="142.75" y="427" width="14.25" height="3" fill="#0000df"/>
<rect x="142.75" y="430" width="14.25" height="2" fill="#0000ef"/>
<rect x="142.75" y="432" width="14.25" height="2" fill="#0000ff"/>
<rect x="142.75" y="434" width="14.25" height="1" fill="#0010ff"/>
<rect x="142.75" y="435" width="14.25" height="2" fill="#0020ff"/>
<rect x="142.75" y="437" width="14.25" height="1" fill="#0030ff"/>
<rect x="142.75" y="438" width="14.25" height="1" fill="#0040ff"/>
<rect x="142.75" y="439" width="14.25" height="1" fill="#0050ff"/>
<rect x="142.75" y="440" width="14.25" height="1" fill="#0060ff"/>
<rect x="142.75" y="441" width="14.25" height="1" fill="#0070ff"/>
<rect x="142.75" y="442" width="14.25" height="1" fill="#0080ff"/>
<rect x="142.75" y="443" width="14.25" height="1" fill="#008fff"/>
<rect x="142.75" y="444" width="14.25" height="1" fill="#00afff"/>
<rect x="142.75" y="445" width="14.25" height="1" fill="#00bfff"/>
<rect x="142.75" y="446" width="14.25" height="1" fill="#00dfff"/>
<rect x="142.75" y="447" width="14.25" height="1" fill="#00ffff"/>
<rect x="142.75" y="448" width="14.25" height="1" fill="#10ffef"/>
<rect x="142.75" y="449" width="14.25" height="1" fill="#30ffcf"/>
<rect x="142.75" y="450" width="14.25" height="1" fill="#50ffaf"/>
<rect x="157.00" y="222" width="14.25" height="1" fill="#00009f"/>
<rect x="157.00" y="223" width="14.25" height="1" fill="#0000af"/>
<rect x="157.00" y="224" width="14.25" height="1" fill="#0000bf"/>
<rect x="157.00" y="225" width="14.25" height="1" fill="#0000cf"/>
<rect x="157.00" y="226" width="14.25" height="1" fill="#0000ef"/>
<rect x="157.00" y="227" width="14.25" height="1" fill="#0020ff"/>
<rect x="157.00" y="228" width="14.25" height="1" fill="#0050ff"/>
<rect x="157.00" y="229" width="14.25" height="1" fill="#0080ff"/>
<rect x="157.00" y="230" width="14.25" height="1" fill="#00afff"/>
<rect x="157.00" y="231" width="14.25" height="1" fill="#00cfff"/>
<rect x="157.00" y="232" width="14.25" height="1" fill="#00efff"/>
<rect x="157.00" y="233" width="14.25" height="2" fill="#00ffff"/>
<rect x="157.00" y="235" width="14.25" height="1" fill="#00efff"/>
<rect x="157.00" y="236" width="14.25" height="1" fill="#00cfff"/>
<rect x="157.00" y="237" width="14.25" height="1" fill="#00afff"/>
<rect x="157.00" y="238" width="14.25" height="1" fill="#0080ff"/>
<rect x="157.00" y="239" width="14.25" height="1" fill="#0050ff"/>
<rect x="157.00" y="240" width="14.25" height="1" fill="#0020ff"/>
<rect x="157.00" y="241" width="14.25" height="1" fill="#0000ef"/>
<rect x="157.00" y="242" width="14.25" height="1" fill="#0000cf"/>
<rect x="157.00" y="243" width="14.25" height="1" fill="#0000bf"/>
<rect x="157.00" y="244" width="14.25" height="1" fill="#0000af"/>
<rect x="157.00" y="245" width="14.25" height="1" fill="#00009f"/>
<rect x="157.00" y="334" width="14.25" height="1" fill="#00009f"/>
<rect x="157.00" y="335" width="14.25" height="1" fill="#0000af"/>
<rect x="157.00" y="336" width="14.25" height="1" fill="#0000cf"/>
<rect x="157.00" y="337" width="14.25" height="1" fill="#0000ef"/>
<rect x="157.00" y="338" width="14.25" height="4" fill="#00dfff"/>
<rect x="157.00" y="342" width="14.25" height="1" fill="#00bfff"/>
<rect x="157.00" y="343" width="14.25" height="1" fill="#00dfff"/>
<rect x="157.00" y="344" width="14.25" height="2" fill="#00efff"/>
<rect x="157.00" y="346" width="14.25" height="1" fill="#00dfff"/>
<rect x="157.00" y="347" width="14.25" height="1" fill="#00bfff"/>
<rect x="157.00" y="348" width="14.25" height="1" fill="#009fff"/>
<rect x="157.00" y="349" width="14.25" height="1" fill="#0070ff"/>
<rect x="157.00" y="350" width="14.25" height="1" fill="#0040ff"/>
<rect x="157.00" y="351" width="14.25" height="1" fill="#0010ff"/>
<rect x="157.00" y="352" width="14.25" height="1" fill="#0000ef"/>
<rect x="157.00" y="353" width="14.25" height="1" fill="#0000cf"/>
<rect x="157.00" y="354" width="14.25" height="1" fill="#0000af"/>
<rect x="157.00" y="355" width="14.25" height="1" fill="#00009f"/>
<rect x="157.00" y="412" width="14.25" height="8" fill="#00009f"/>
<rect x="157.00" y="420" width="14.25" height="5" fill="#0000af"/>
<rect x="157.00" y="425" width="14.25" height="3" fill="#0000bf"/>
<rect x="157.00" y="428" width="14.25" height="3" fill="#0000cf"/>
<rect x="157.00" y="431" width="14.25" height="2" fill="#0000df"/>
<rect x="157.00" y="433" width="14.25" height="1" fill="#0000ef"/>
<rect x="157.00" y="434" width="14.25" height="2" fill="#0000ff"/>
<rect x="157.00" y="436" width="14.25" height="1" fill="#0010ff"/>
<rect x="157.00" y="437" width="14.25" height="1" fill="#0020ff"/>
<rect x="157.00" y="438" width="14.25" height="2" fill="#0030ff"/>
<rect x="157.00" y="440" width="14.25" height="1" fill="#0040ff"/>
<rect x="157.00" y="441" width="14.25" height="1" fill="#0060ff"/>
<rect x="157.00" y="442" width="14.25" height="1" fill="#0070ff"/>
<rect x="157.00" y="443" width="14.25" height="1" fill="#0080ff"/>
<rect x="157.00" y="444" width="14.25" height="1" fill="#009fff"/>
<rect x="157.00" y="445" width="14.25" height="1" fill="#00afff"/>
<rect x="157.00" y="446" width="14.25" height="1" fill="#00cfff"/>
<rect x="157.00" y="447" width="14.25" height="1" fill="#00efff"/>
<rect x="157.00" y="448" width="14.25" height="1" fill="#10ffef"/>
<rect x="157.00" y="449" width="14.25" height="1" fill="#30ffcf"/>
<rect x="157.00" y="450" width="14.25" height="1" fill="#50ffaf"/>
<rect x="171.25" y="216" width="14.25" height="2" fill="#00009f"/>
<rect x="171.25" y="218" width="14.25" height="1" fill="#0000af"/>
<rect x="171.25" y="219" width="14.25" height="1" fill="#0000cf"/>
<rect x="171.25" y="220" width="14.25" height="1" fill="#0000ef"/>
<rect x="171.25" y="221" width="14.25" height="1" fill="#0010ff"/>
<rect x="171.25" y="222" width="14.25" height="1" fill="#0040ff"/>
<rect x="171.25" y="223" width="14.25" height="1" fill="#0080ff"/>
<rect x="171.25" y="224" width="14.25" height="1" fill="#00afff"/>
<rect x="171.25" y="225" width="14.25" height="1" fill="#00cfff"/>
<rect x="171.25" y="226" width="14.25" height="1" fill="#00efff"/>
<rect x="171.25" y="227" width="14.25" height="2" fill="#00ffff"/>
<rect x="171.25" y="229" width="14.25" height="1" fill="#00efff"/>
<rect x="171.25" y="230" width="14.25" height="1" fill="#00bfff"/>
<rect x="171.25" y="231" width="14.25" height="1" fill="#008fff"/>
<rect x="171.25" y="232" width="14.25" height="1" fill="#0060ff"/>
<rect x="171.25" y="233" width="14.25" height="1" fill="#0030ff"/>
<rect x="171.25" y="234" width="14.25" height="1" fill="#0000ff"/>
<rect x="171.25" y="235" width="14.25" height="1" fill="#0000df"/>
<rect x="171.25" y="236" width="14.25" height="1" fill="#0000bf"/>
<rect x="171.25" y="237" width="14.25" height="1" fill="#0000af"/>
<rect x="171.25" y="238" width="14.25" height="1" fill="#00009f"/>
<rect x="171.25" y="332" width="14.25" height="1" fill="#0000ff"/>
<rect x="171.25" y="333" width="14.25" height="4" fill="#0070ff"/>
<rect x="171.25" y="337" width="14.25" height="2" fill="#0050ff"/>
<rect x="171.25" y="339" width="14.25" height="1" fill="#0080ff"/>
<rect x="171.25" y="340" width="14.25" height="1" fill="#00afff"/>
<rect x="171.25" y="341" width="14.25" height="1" fill="#00cfff"/>
<rect x="171.25" y="342" width="14.25" height="1" fill="#00efff"/>
<rect x="171.25" y="343" width="14.25" height="1" fill="#00ffff"/>
<rect x="171.25" y="344" width="14.25" height="1" fill="#00efff"/>
<rect x="171.25" y="345" width="14.25" height="1" fill="#00cfff"/>
<rect x="171.25" y="346" width="14.25" height="1" fill="#00afff"/>
<rect x="171.25" y="347" width="14.25" height="1" fill="#0080ff"/>
<rect x="171.25" y="348" width="14.25" height="1" fill="#0050ff"/>
<rect x="171.25" y="349" width="14.25" height="1" fill="#0020ff"/>
<rect x="171.25" y="350" width="14.25" height="1" fill="#0000ff"/>
<rect x="171.25" y="351" width="14.25" height="1" fill="#0000df"/>
<rect x="171.25" y="352" width="14.25" height="1" fill="#0000bf"/>
<rect x="171.25" y="353" width="14.25" height="1" fill="#0000af"/>
<rect x="171.25" y="354" width="14.25" height="1" fill="#00009f"/>
<rect x="171.25" y="418" width="14.25" height="7" fill="#00009f"/>
<rect x="171.25" y="425" width="14.25" height="4" fill="#0000af"/>
<rect x="171.25" y="429" width="14.25" height="3" fill="#0000bf"/>
<rect x="171.25" y="432" width="14.25" height="2" fill="#0000cf"/>
<rect x="171.25" y="434" width="14.25" height="2" fill="#0000df"/>
<rect x="171.25" y="436" width="14.25" height="1" fill="#0000ef"/>
<rect x="171.25" y="437" width="14.25" height="2" fill="#0000ff"/>
<rect x="171.25" y="439" width="14.25" height="1" fill="#0010ff"/>
<rect x="171.25" y="440" width="14.25" height="1" fill="#0020ff"/>
<rect x="171.25" y="441" width="14.25" height="1" fill="#0030ff"/>
<rect x="171.25" y="442" width="14.25" height="1" fill="#0040ff"/>
<rect x="171.25" y="443" width="14.25" height="1" fill="#0060ff"/>
<rect x="171.25" y="444" width="14.25" height="1" fill="#0070ff"/>
<rect x="171.25" y="445" width="14.25" height="1" fill="#008fff"/>
<rect x="171.25" y="446" width="14.25" height="1" fill="#009fff"/>
<rect x="171.25" y="447" width="14.25" height="1" fill="#00bfff"/>
<rect x="171.25" y="448" width="14.25" height="1" fill="#00dfff"/>
<rect x="171.25" y="449" width="14.25" height="1" fill="#10ffef"/>
<rect x="171.25" y="450" width="14.25" height="1" fill="#30ffcf"/>
<rect x="185.50" y="212" width="14.25" height="1" fill="#00009f"/>
<rect x="185.50" y="213" width="14.25" height="1" fill="#0000af"/>
<rect x="185.50" y="214" width="14.25" height="1" fill="#0000cf"/>
<rect x="185.50" y="215" width="14.25" height="1" fill="#0000ef"/>
<rect x="185.50" y="216" width="14.25" height="1" fill="#0020ff"/>
<rect x="185.50" y="217" width="14.25" height="1" fill="#0050ff"/>
<rect x="185.50" y="218" width="14.25" height="1" fill="#0080ff"/>
<rect x="185.50" y="219" width="14.25" height="1" fill="#00bfff"/>
<rect x="185.50" y="220" width="14.25" height="1" fill="#00dfff"/>
<rect x="185.50" y="221" width="14.25" height="3" fill="#00ffff"/>
<rect x="185.50" y="224" width="14.25" height="1" fill="#00cfff"/>
<rect x="185.50" y="225" width="14.25" height="1" fill="#009fff"/>
<rect x="185.50" y="226" width="14.25" height="1" fill="#0070ff"/>
<rect x="185.50" y="227" width="14.25" height="1" fill="#0040ff"/>
<rect x="185.50" y="228" width="14.25" height="1" fill="#0010ff"/>
<rect x="185.50" y="229" width="14.25" height="1" fill="#0000df"/>
<rect x="185.50" y="230" width="14.25" height="1" fill="#0000bf"/>
<rect x="185.50" y="231" width="14.25" height="1" fill="#0000af"/>
<rect x="185.50" y="232" width="14.25" height="1" fill="#00009f"/>
<rect x="185.50" y="329" width="14.25" height="1" fill="#0030ff"/>
<rect x="185.50" y="330" width="14.25" height="4" fill="#0050ff"/>
<rect x="185.50" y="334" width="14.25" height="1" fill="#0020ff"/>
<rect x="185.50" y="335" width="14.25" height="1" fill="#0000ff"/>
<rect x="185.50" y="336" width="14.25" height="1" fill="#0020ff"/>
<rect x="185.50" y="337" width="14.25" height="1" fill="#0050ff"/>
<rect x="185.50" y="338" width="14.25" height="1" fill="#008fff"/>
<rect x="185.50" y="339" width="14.25" height="1" fill="#00afff"/>
<rect x="185.50" y="340" width="14.25" height="1" fill="#00dfff"/>
<rect x="185.50" y="341" width="14.25" height="1" fill="#00efff"/>
<rect x="185.50" y="342" width="14.25" height="1" fill="#00ffff"/>
<rect x="185.50" y="343" width="14.25" height="1" fill="#00efff"/>
<rect x="185.50" y="344" width="14.25" height="1" fill="#00dfff"/>
<rect x="185.50" y="345" width="14.25" height="1" fill="#00afff"/>
<rect x="185.50" y="346" width="14.25" height="1" fill="#008fff"/>
<rect x="185.50" y="347" width="14.25" height="1" fill="#0050ff"/>
<rect x="185.50" y="348" width="14.25" height="1" fill="#0020ff"/>
<rect x="185.50" y="349" width="14.25" height="1" fill="#0000ff"/>
<rect x="185.50" y="350" width="14.25" height="1" fill="#0000df"/>
<rect x="185.50" y="351" width="14.25" height="1" fill="#0000bf"/>
<rect x="185.50" y="352" width="14.25" height="1" fill="#0000af"/>
<rect x="185.50" y="353" width="14.25" height="1" fill="#00009f"/>
<rect x="185.50" y="423" width="14.25" height="6" fill="#00009f"/>
<rect x="185.50" y="429" width="14.25" height="3" fill="#0000af"/>
<rect x="185.50" y="432" width="14.25" height="3" fill="#0000bf"/>
<rect x="185.50" y="435" width="14.25" height="2" fill="#0000cf"/>
<rect x="185.50" y="437" width="14.25" height="1" fill="#0000df"/>
<rect x="185.50" y="438" width="14.25" height="2" fill="#0000ef"/>
<rect x="185.50" y="440" width="14.25" height="1" fill="#0000ff"/>
<rect x="185.50" y="441" width="14.25" height="1" fill="#0010ff"/>
<rect x="185.50" y="442" width="14.25" height="1" fill="#0020ff"/>
<rect x="185.50" y="443" width="14.25" height="1" fill="#0040ff"/>
<rect x="185.50" y="444" width="14.25" height="1" fill="#0050ff"/>
<rect x="185.50" y="445" width="14.25" height="1" fill="#0060ff"/>
<rect x="185.50" y="446" width="14.25" height="1" fill="#0080ff"/>
<rect x="185.50" y="447" width="14.25" height="1" fill="#009fff"/>
<rect x="185.50" y="448" width="14.25" height="1" fill="#00bfff"/>
<rect x="185.50" y="449" width="14.25" height="1" fill="#00efff"/>
<rect x="185.50" y="450" width="14.25" height="1" fill="#10ffef"/>
<rect x="199.75" y="208" width="14.25" height="2" fill="#00009f"/>
<rect x="199.75" y="210" width="14.25" height="1" fill="#0000bf"/>
<rect x="199.75" y="211" width="14.25" height="1" fill="#0000df"/>
<rect x="199.75" y="212" width="14.25" height="1" fill="#0000ff"/>
<rect x="199.75" y="213" width="14.25" height="1" fill="#0030ff"/>
<rect x="199.75" y="214" width="14.25" height="1" fill="#0070ff"/>
<rect x="199.75" y="215" width="14.25" height="1" fill="#00afff"/>
<rect x="199.75" y="216" width="14.25" height="1" fill="#00dfff"/>
<rect x="199.75" y="217" width="14.25" height="1" fill="#00ffff"/>
<rect x="199.75" y="218" width="14.25" height="1" fill="#10ffef"/>
<rect x="199.75" y="219" width="14.25" height="1" fill="#00ffff"/>
<rect x="199.75" y="220" width="14.25" height="1" fill="#00dfff"/>
<rect x="199.75" y="221" width="14.25" height="1" fill="#00afff"/>
<rect x="199.75" y="222" width="14.25" height="1" fill="#0070ff"/>
<rect x="199.75" y="223" width="14.25" height="1" fill="#0030ff"/>
<rect x="199.75" y="224" width="14.25" height="1" fill="#0000ff"/>
<rect x="199.75" y="225" width="14.25" height="1" fill="#0000df"/>
<rect x="199.75" y="226" width="14.25" height="1" fill="#0000bf"/>
<rect x="199.75" y="227" width="14.25" height="2" fill="#00009f"/>
<rect x="199.75" y="327" width="14.25" height="1" fill="#0000ff"/>
<rect x="199.75" y="328" width="14.25" height="4" fill="#0030ff"/>
<rect x="199.75" y="332" width="14.25" height="1" fill="#0010ff"/>
<rect x="199.75" y="333" width="14.25" height="1" fill="#0000ef"/>
<rect x="199.75" y="334" width="14.25" height="1" fill="#0000ff"/>
<rect x="199.75" y="335" width="14.25" height="1" fill="#0020ff"/>
<rect x="199.75" y="336" width="14.25" height="1" fill="#0050ff"/>
<rect x="199.75" y="337" width="14.25" height="1" fill="#0080ff"/>
<rect x="199.75" y="338" width="14.25" height="1" fill="#00afff"/>
<rect x="199.75" y="339" width="14.25" height="1" fill="#00dfff"/>
<rect x="199.75" y="340" width="14.25" height="3" fill="#00ffff"/>
<rect x="199.75" y="343" width="14.25" height="1" fill="#00dfff"/>
<rect x="199.75" y="344" width="14.25" height="1" fill="#00afff"/>
<rect x="199.75" y="345" width="14.25" height="1" fill="#0080ff"/>
<rect x="199.75" y="346" width="14.25" height="1" fill="#0050ff"/>
<rect x="199.75" y="347" width="14.25" height="1" fill="#0020ff"/>
<rect x="199.75" y="348" width="14.25" height="1" fill="#0000ff"/>
<rect x="199.75" y="349" width="14.25" height="1" fill="#0000cf"/>
<rect x="199.75" y="350" width="14.25" height="1" fill="#0000bf"/>
<rect x="199.75" y="351" width="14.25" height="1" fill="#0000af"/>
<rect x="199.75" y="352" width="14.25" height="1" fill="#00009f"/>
<rect x="199.75" y="427" width="14.25" height="5" fill="#00009f"/>
<rect x="199.75" y="432" width="14.25" height="3" fill="#0000af"/>
<rect x="199.75" y="435" width="14.25" height="2" fill="#0000bf"/>
<rect x="199.75" y="437" width="14.25" height="2" fill="#0000cf"/>
<rect x="199.75" y="439" width="14.25" height="1" fill="#0000df"/>
<rect x="199.75" y="440" width="14.25" height="2" fill="#0000ef"/>
<rect x="199.75" y="442" width="14.25" height="1" fill="#0000ff"/>
<rect x="199.75" y="443" width="14.25" height="1" fill="#0010ff"/>
<rect x="199.75" y="444" width="14.25" height="1" fill="#0030ff"/>
<rect x="199.75" y="445" width="14.25" height="1" fill="#0040ff"/>
<rect x="199.75" y="446" width="14.25" height="1" fill="#0060ff"/>
<rect x="199.75" y="447" width="14.25" height="1" fill="#0080ff"/>
<rect x="199.75" y="448" width="14.25" height="1" fill="#009fff"/>
<rect x="199.75" y="449" width="14.25" height="1" fill="#00bfff"/>
<rect x="199.75" y="450" width="14.25" height="1" fill="#00efff"/>
<rect x="214.00" y="205" width="14.25" height="2" fill="#00009f"/>
<rect x="214.00" y="207" width="14.25" height="1" fill="#0000bf"/>
<rect x="214.00" y="208" width="14.25" height="1" fill="#0000df"/>
<rect x="214.00" y="209" width="14.25" height="1" fill="#0010ff"/>
<rect x="214.00" y="210" width="14.25" height="1" fill="#0050ff"/>
<rect x="214.00" y="211" width="14.25" height="1" fill="#0080ff"/>
<rect x="214.00" y="212" width="14.25" height="1" fill="#00bfff"/>
<rect x="214.00" y="213" width="14.25" height="1" fill="#00efff"/>
<rect x="214.00" y="214" width="14.25" height="2" fill="#10ffef"/>
<rect x="214.00" y="216" width="14.25" height="1" fill="#00efff"/>
<rect x="214.00" y="217" width="14.25" height="1" fill="#00bfff"/>
<rect x="214.00" y="218" width="14.25" height="1" fill="#0080ff"/>
<rect x="214.00" y="219" width="14.25" height="1" fill="#0050ff"/>
<rect x="214.00" y="220" width="14.25" height="1" fill="#0010ff"/>
<rect x="214.00" y="221" width="14.25" height="1" fill="#0000df"/>
<rect x="214.00" y="222" width="14.25" height="1" fill="#0000bf"/>
<rect x="214.00" y="223" width="14.25" height="2" fill="#00009f"/>
<rect x="214.00" y="326" width="14.25" height="1" fill="#0000cf"/>
<rect x="214.00" y="327" width="14.25" height="4" fill="#0010ff"/>
<rect x="214.00" y="331" width="14.25" height="1" fill="#0000ff"/>
<rect x="214.00" y="332" width="14.25" height="1" fill="#0000df"/>
<rect x="214.00" y="333" width="14.25" height="1" fill="#0000ff"/>
<rect x="214.00" y="334" width="14.25" height="1" fill="#0030ff"/>
<rect x="214.00" y="335" width="14.25" height="1" fill="#0060ff"/>
<rect x="214.00" y="336" width="14.25" height="1" fill="#008fff"/>
<rect x="214.00" y="337" width="14.25" height="1" fill="#00bfff"/>
<rect x="214.00" y="338" width="14.25" height="1" fill="#00efff"/>
<rect x="214.00" y="339" width="14.25" height="2" fill="#00ffff"/>
<rect x="214.00" y="341" width="14.25" height="1" fill="#00efff"/>
<rect x="214.00" y="342" width="14.25" height="1" fill="#00cfff"/>
<rect x="214.00" y="343" width="14.25" height="1" fill="#009fff"/>
<rect x="214.00" y="344" width="14.25" height="1" fill="#0070ff"/>
<rect x="214.00" y="345" width="14.25" height="1" fill="#0040ff"/>
<rect x="214.00" y="346" width="14.25" height="1" fill="#0010ff"/>
<rect x="214.00" y="347" width="14.25" height="1" fill="#0000df"/>
<rect x="214.00" y="348" width="14.25" height="1" fill="#0000bf"/>
<rect x="214.00" y="349" width="14.25" height="1" fill="#0000af"/>
<rect x="214.00" y="350" width="14.25" height="1" fill="#00009f"/>
<rect x="214.00" y="431" width="14.25" height="4" fill="#00009f"/>
<rect x="214.00" y="435" width="14.25" height="3" fill="#0000af"/>
<rect x="214.00" y="438" width="14.25" height="2" fill="#0000bf"/>
<rect x="214.00" y="440" width="14.25" height="1" fill="#0000cf"/>
<rect x="214.00" y="441" width="14.25" height="1" fill="#0000df"/>
<rect x="214.00" y="442" width="14.25" height="1" fill="#0000ef"/>
<rect x="214.00" y="443" width="14.25" height="1" fill="#0000ff"/>
<rect x="214.00" y="444" width="14.25" height="1" fill="#0010ff"/>
<rect x="214.00" y="445" width="14.25" height="1" fill="#0020ff"/>
<rect x="214.00" y="446" width="14.25" height="1" fill="#0040ff"/>
<rect x="214.00" y="447" width="14.25" height="1" fill="#0060ff"/>
<rect x="214.00" y="448" width="14.25" height="1" fill="#0080ff"/>
<rect x="214.00" y="449" width="14.25" height="1" fill="#009fff"/>
<rect x="214.00" y="450" width="14.25" height="1" fill="#00cfff"/>
<rect x="228.25" y="203" width="14.25" height="1" fill="#00009f"/>
<rect x="228.25" y="204" width="14.25" height="1" fill="#0000af"/>
<rect x="228.25" y="205" width="14.25" height="1" fill="#0000bf"/>
<rect x="228.25" y="206" width="14.25" height="1" fill="#0000ef"/>
<rect x="228.25" y="207" width="14.25" height="1" fill="#0020ff"/>
<rect x="228.25" y="208" width="14.25" height="1" fill="#0060ff"/>
<rect x="228.25" y="209" width="14.25" height="1" fill="#009fff"/>
<rect x="228.25" y="210" width="14.25" height="1" fill="#00cfff"/>
<rect x="228.25" y="211" width="14.25" height="1" fill="#00ffff"/>
<rect x="228.25" y="212" width="14.25" height="1" fill="#10ffef"/>
<rect x="228.25" y="213" width="14.25" height="1" fill="#00ffff"/>
<rect x="228.25" y="214" width="14.25" height="1" fill="#00dfff"/>
<rect x="228.25" y="215" width="14.25" height="1" fill="#009fff"/>
<rect x="228.25" y="216" width="14.25" height="1" fill="#0060ff"/>
<rect x="228.25" y="217" width="14.25" height="1" fill="#0030ff"/>
<rect x="228.25" y="218" width="14.25" height="1" fill="#0000ef"/>
<rect x="228.25" y="219" width="14.25" height="1" fill="#0000cf"/>
<rect x="228.25" y="220" width="14.25" height="1" fill="#0000af"/>
<rect x="228.25" y="221" width="14.25" height="1" fill="#00009f"/>
<rect x="228.25" y="326" width="14.25" height="4" fill="#0000ff"/>
<rect x="228.25" y="330" width="14.25" height="1" fill="#0000ef"/>
<rect x="228.25" y="331" width="14.25" height="1" fill="#0010ff"/>
<rect x="228.25" y="332" width="14.25" height="1" fill="#0040ff"/>
<rect x="228.25" y="333" width="14.25" height="1" fill="#0080ff"/>
<rect x="228.25" y="334" width="14.25" height="1" fill="#00afff"/>
<rect x="228.25" y="335" width="14.25" height="1" fill="#00dfff"/>
<rect x="228.25" y="336" width="14.25" height="1" fill="#00ffff"/>
<rect x="228.25" y="337" width="14.25" height="1" fill="#10ffef"/>
<rect x="228.25" y="338" width="14.25" height="1" fill="#00ffff"/>
<rect x="228.25" y="339" width="14.25" height="1" fill="#00dfff"/>
<rect x="228.25" y="340" width="14.25" height="1" fill="#00afff"/>
<rect x="228.25" y="341" width="14.25" height="1" fill="#0080ff"/>
<rect x="228.25" y="342" width="14.25" height="1" fill="#0040ff"/>
<rect x="228.25" y="343" width="14.25" height="1" fill="#0010ff"/>
<rect x="228.25" y="344" width="14.25" height="1" fill="#0000df"/>
<rect x="228.25" y="345" width="14.25" height="1" fill="#0000bf"/>
<rect x="228.25" y="346" width="14.25" height="1" fill="#0000af"/>
<rect x="228.25" y="347" width="14.25" height="1" fill="#00009f"/>
<rect x="228.25" y="434" width="14.25" height="4" fill="#00009f"/>
<rect x="228.25" y="438" width="14.25" height="2" fill="#0000af"/>
<rect x="228.25" y="440" width="14.25" height="2" fill="#0000bf"/>
<rect x="228.25" y="442" width="14.25" height="1" fill="#0000cf"/>
<rect x="228.25" y="443" width="14.25" height="1" fill="#0000df"/>
<rect x="228.25" y="444" width="14.25" height="1" fill="#0000ef"/>
<rect x="228.25" y="445" width="14.25" height="1" fill="#0000ff"/>
<rect x="228.25" y="446" width="14.25" height="1" fill="#0020ff"/>
<rect x="228.25" y="447" width="14.25" height="1" fill="#0040ff"/>
<rect x="228.25" y="448" width="14.25" height="1" fill="#0060ff"/>
<rect x="228.25" y="449" width="14.25" height="1" fill="#0080ff"/>
<rect x="228.25" y="450" width="14.25" height="1" fill="#00afff"/>
<rect x="242.50" y="202" width="14.25" height="1" fill="#00009f"/>
<rect x="242.50" y="203" width="14.25" height="1" fill="#0000af"/>
<rect x="242.50" y="204" width="14.25" height="1" fill="#0000cf"/>
<rect x="242.50" y="205" width="14.25" height="1" fill="#0000ef"/>
<rect x="242.50" y="206" width="14.25" height="1" fill="#0030ff"/>
<rect x="242.50" y="207" width="14.25" height="1" fill="#0070ff"/>
<rect x="242.50" y="208" width="14.25" height="1" fill="#00afff"/>
<rect x="242.50" y="209" width="14.25" height="1" fill="#00dfff"/>
<rect x="242.50" y="210" width="14.25" height="2" fill="#10ffef"/>
<rect x="242.50" y="212" width="14.25" height="1" fill="#00ffff"/>
<rect x="242.50" y="213" width="14.25" height="1" fill="#00cfff"/>
<rect x="242.50" y="214" width="14.25" height="1" fill="#008fff"/>
<rect x="242.50" y="215" width="14.25" height="1" fill="#0050ff"/>
<rect x="242.50" y="216" width="14.25" height="1" fill="#0010ff"/>
<rect x="242.50" y="217" width="14.25" height="1" fill="#0000df"/>
<rect x="242.50" y="218" width="14.25" height="1" fill="#0000bf"/>
<rect x="242.50" y="219" width="14.25" height="1" fill="#00009f"/>
<rect x="242.50" y="325" width="14.25" height="1" fill="#00009f"/>
<rect x="242.50" y="326" width="14.25" height="1" fill="#0000af"/>
<rect x="242.50" y="327" width="14.25" height="1" fill="#0000bf"/>
<rect x="242.50" y="328" width="14.25" height="1" fill="#0000df"/>
<rect x="242.50" y="329" width="14.25" height="1" fill="#0010ff"/>
<rect x="242.50" y="330" width="14.25" height="1" fill="#0040ff"/>
<rect x="242.50" y="331" width="14.25" height="1" fill="#0080ff"/>
<rect x="242.50" y="332" width="14.25" height="1" fill="#00bfff"/>
<rect x="242.50" y="333" width="14.25" height="1" fill="#00dfff"/>
<rect x="242.50" y="334" width="14.25" height="1" fill="#00ffff"/>
<rect x="242.50" y="335" width="14.25" height="1" fill="#10ffef"/>
<rect x="242.50" y="336" width="14.25" height="1" fill="#00ffff"/>
<rect x="242.50" y="337" width="14.25" height="1" fill="#00cfff"/>
<rect x="242.50" y="338" width="14.25" height="1" fill="#009fff"/>
<rect x="242.50" y="339" width="14.25" height="1" fill="#0070ff"/>
<rect x="242.50" y="340" width="14.25" height="1" fill="#0030ff"/>
<rect x="242.50" y="341" width="14.25" height="1" fill="#0000ff"/>
<rect x="242.50" y="342" width="14.25" height="1" fill="#0000cf"/>
<rect x="242.50" y="343" width="14.25" height="1" fill="#0000af"/>
<rect x="242.50" y="344" width="14.25" height="1" fill="#00009f"/>
<rect x="242.50" y="437" width="14.25" height="3" fill="#00009f"/>
<rect x="242.50" y="440" width="14.25" height="2" fill="#0000af"/>
<rect x="242.50" y="442" width="14.25" height="1" fill="#0000bf"/>
<rect x="242.50" y="443" width="14.25" height="2" fill="#0000cf"/>
<rect x="242.50" y="445" width="14.25" height="1" fill="#0000ef"/>
<rect x="242.50" y="446" width="14.25" height="1" fill="#0000ff"/>
<rect x="242.50" y="447" width="14.25" height="1" fill="#0020ff"/>
<rect x="242.50" y="448" width="14.25" height="1" fill="#0040ff"/>
<rect x="242.50" y="449" width="14.25" height="1" fill="#0060ff"/>
<rect x="242.50" y="450" width="14.25" height="1" fill="#008fff"/>
<rect x="256.75" y="201" width="14.25" height="1" fill="#00009f"/>
<rect x="256.75" y="202" width="14.25" height="1" fill="#0000af"/>
<rect x="256.75" y="203" width="14.25" height="1" fill="#0000cf"/>
<rect x="256.75" y="204" width="14.25" height="1" fill="#0000ef"/>
<rect x="256.75" y="205" width="14.25" height="1" fill="#0030ff"/>
<rect x="256.75" y="206" width="14.25" height="1" fill="#0070ff"/>
<rect x="256.75" y="207" width="14.25" height="1" fill="#00afff"/>
<rect x="256.75" y="208" width="14.25" height="1" fill="#00dfff"/>
<rect x="256.75" y="209" width="14.25" height="2" fill="#10ffef"/>
<rect x="256.75" y="211" width="14.25" height="1" fill="#00ffff"/>
<rect x="256.75" y="212" width="14.25" height="1" fill="#00cfff"/>
<rect x="256.75" y="213" width="14.25" height="1" fill="#008fff"/>
<rect x="256.75" y="214" width="14.25" height="1" fill="#0050ff"/>
<rect x="256.75" y="215" width="14.25" height="1" fill="#0010ff"/>
<rect x="256.75" y="216" width="14.25" height="1" fill="#0000df"/>
<rect x="256.75" y="217" width="14.25" height="1" fill="#0000bf"/>
<rect x="256.75" y="218" width="14.25" height="1" fill="#00009f"/>
<rect x="256.75" y="324" width="14.25" height="1" fill="#00009f"/>
<rect x="256.75" y="325" width="14.25" height="1" fill="#0000af"/>
<rect x="256.75" y="326" width="14.25" height="1" fill="#0000cf"/>
<rect x="256.75" y="327" width="14.25" height="1" fill="#0000ef"/>
<rect x="256.75" y="328" width="14.25" height="1" fill="#0020ff"/>
<rect x="256.75" y="329" width="14.25" height="1" fill="#0050ff"/>
<rect x="256.75" y="330" width="14.25" height="1" fill="#008fff"/>
<rect x="256.75" y="331" width="14.25" height="1" fill="#00cfff"/>
<rect x="256.75" y="332" width="14.25" height="1" fill="#00efff"/>
<rect x="256.75" y="333" width="14.25" height="2" fill="#10ffef"/>
<rect x="256.75" y="335" width="14.25" height="1" fill="#00efff"/>
<rect x="256.75" y="336" width="14.25" height="1" fill="#00bfff"/>
<rect x="256.75" y="337" width="14.25" height="1" fill="#0080ff"/>
<rect x="256.75" y="338" width="14.25" height="1" fill="#0050ff"/>
<rect x="256.75" y="339" width="14.25" height="1" fill="#0010ff"/>
<rect x="256.75" y="340" width="14.25" height="1" fill="#0000df"/>
<rect x="256.75" y="341" width="14.25" height="1" fill="#0000bf"/>
<rect x="256.75" y="342" width="14.25" height="1" fill="#0000af"/>
<rect x="256.75" y="343" width="14.25" height="1" fill="#00009f"/>
<rect x="256.75" y="439" width="14.25" height="3" fill="#00009f"/>
<rect x="256.75" y="442" width="14.25" height="2" fill="#0000af"/>
<rect x="256.75" y="444" width="14.25" height="1" fill="#0000bf"/>
<rect x="256.75" y="445" width="14.25" height="1" fill="#0000cf"/>
<rect x="256.75" y="446" width="14.25" height="1" fill="#0000df"/>
<rect x="256.75" y="447" width="14.25" height="1" fill="#0000ff"/>
<rect x="256.75" y="448" width="14.25" height="1" fill="#0020ff"/>
<rect x="256.75" y="449" width="14.25" height="1" fill="#0040ff"/>
<rect x="256.75" y="450" width="14.25" height="1" fill="#0070ff"/>
<rect x="271.00" y="201" width="14.25" height="1" fill="#00009f"/>
<rect x="271.00" y="202" width="14.25" height="1" fill="#0000bf"/>
<rect x="271.00" y="203" width="14.25" height="1" fill="#0000df"/>
<rect x="271.00" y="204" width="14.25" height="1" fill="#0010ff"/>
<rect x="271.00" y="205" width="14.25" height="1" fill="#0050ff"/>
<rect x="271.00" y="206" width="14.25" height="1" fill="#008fff"/>
<rect x="271.00" y="207" width="14.25" height="1" fill="#00cfff"/>
<rect x="271.00" y="208" width="14.25" height="1" fill="#00ffff"/>
<rect x="271.00" y="209" width="14.25" height="2" fill="#10ffef"/>
<rect x="271.00" y="211" width="14.25" height="1" fill="#00efff"/>
<rect x="271.00" y="212" width="14.25" height="1" fill="#00afff"/>
<rect x="271.00" y="213" width="14.25" height="1" fill="#0070ff"/>
<rect x="271.00" y="214" width="14.25" height="1" fill="#0030ff"/>
<rect x="271.00" y="215" width="14.25" height="1" fill="#0000ef"/>
<rect x="271.00" y="216" width="14.25" height="1" fill="#0000cf"/>
<rect x="271.00" y="217" width="14.25" height="1" fill="#0000af"/>
<rect x="271.00" y="218" width="14.25" height="1" fill="#00009f"/>
<rect x="271.00" y="323" width="14.25" height="1" fill="#00009f"/>
<rect x="271.00" y="324" width="14.25" height="1" fill="#0000bf"/>
<rect x="271.00" y="325" width="14.25" height="1" fill="#0000df"/>
<rect x="271.00" y="326" width="14.25" height="1" fill="#0000ff"/>
<rect x="271.00" y="327" width="14.25" height="1" fill="#0040ff"/>
<rect x="271.00" y="328" width="14.25" height="1" fill="#0080ff"/>
<rect x="271.00" y="329" width="14.25" height="1" fill="#00bfff"/>
<rect x="271.00" y="330" width="14.25" height="1" fill="#00efff"/>
<rect x="271.00" y="331" width="14.25" height="2" fill="#10ffef"/>
<rect x="271.00" y="333" width="14.25" height="1" fill="#00ffff"/>
<rect x="271.00" y="334" width="14.25" height="1" fill="#00cfff"/>
<rect x="271.00" y="335" width="14.25" height="1" fill="#008fff"/>
<rect x="271.00" y="336" width="14.25" height="1" fill="#0050ff"/>
<rect x="271.00" y="337" width="14.25" height="1" fill="#0020ff"/>
<rect x="271.00" y="338" width="14.25" height="1" fill="#0000ef"/>
<rect x="271.00" y="339" width="14.25" height="1" fill="#0000bf"/>
<rect x="271.00" y="340" width="14.25" height="1" fill="#0000af"/>
<rect x="271.00" y="341" width="14.25" height="1" fill="#00009f"/>
<rect x="271.00" y="441" width="14.25" height="3" fill="#00009f"/>
<rect x="271.00" y="444" width="14.25" height="1" fill="#0000af"/>
<rect x="271.00" y="445" width="14.25" height="1" fill="#0000bf"/>
<rect x="271.00" y="446" width="14.25" height="1" fill="#0000cf"/>
<rect x="271.00" y="447" width="14.25" height="1" fill="#0000df"/>
<rect x="271.00" y="448" width="14.25" height="1" fill="#0000ff"/>
<rect x="271.00" y="449" width="14.25" height="1" fill="#0020ff"/>
<rect x="271.00" y="450" width="14.25" height="1" fill="#0050ff"/>
<rect x="285.25" y="200" width="14.25" height="1" fill="#00009f"/>
<rect x="285.25" y="201" width="14.25" height="1" fill="#0000af"/>
<rect x="285.25" y="202" width="14.25" height="1" fill="#0000cf"/>
<rect x="285.25" y="203" width="14.25" height="1" fill="#0000ff"/>
<rect x="285.25" y="204" width="14.25" height="1" fill="#0040ff"/>
<rect x="285.25" y="205" width="14.25" height="1" fill="#0080ff"/>
<rect x="285.25" y="206" width="14.25" height="1" fill="#00bfff"/>
<rect x="285.25" y="207" width="14.25" height="1" fill="#00efff"/>
<rect x="285.25" y="208" width="14.25" height="2" fill="#10ffef"/>
<rect x="285.25" y="210" width="14.25" height="1" fill="#00efff"/>
<rect x="285.25" y="211" width="14.25" height="1" fill="#00bfff"/>
<rect x="285.25" y="212" width="14.25" height="1" fill="#0080ff"/>
<rect x="285.25" y="213" width="14.25" height="1" fill="#0040ff"/>
<rect x="285.25" y="214" width="14.25" height="1" fill="#0000ff"/>
<rect x="285.25" y="215" width="14.25" height="1" fill="#0000cf"/>
<rect x="285.25" y="216" width="14.25" height="1" fill="#0000af"/>
<rect x="285.25" y="217" width="14.25" height="1" fill="#00009f"/>
<rect x="285.25" y="321" width="14.25" height="1" fill="#00009f"/>
<rect x="285.25" y="322" width="14.25" height="1" fill="#0000af"/>
<rect x="285.25" y="323" width="14.25" height="1" fill="#0000bf"/>
<rect x="285.25" y="324" width="14.25" height="1" fill="#0000df"/>
<rect x="285.25" y="325" width="14.25" height="1" fill="#0010ff"/>
<rect x="285.25" y="326" width="14.25" height="1" fill="#0050ff"/>
<rect x="285.25" y="327" width="14.25" height="1" fill="#008fff"/>
<rect x="285.25" y="328" width="14.25" height="1" fill="#00cfff"/>
<rect x="285.25" y="329" width="14.25" height="1" fill="#00ffff"/>
<rect x="285.25" y="330" width="14.25" height="2" fill="#10ffef"/>
<rect x="285.25" y="332" width="14.25" height="1" fill="#00efff"/>
<rect x="285.25" y="333" width="14.25" height="1" fill="#00bfff"/>
<rect x="285.25" y="334" width="14.25" height="1" fill="#0080ff"/>
<rect x="285.25" y="335" width="14.25" height="1" fill="#0040ff"/>
<rect x="285.25" y="336" width="14.25" height="1" fill="#0010ff"/>
<rect x="285.25" y="337" width="14.25" height="1" fill="#0000df"/>
<rect x="285.25" y="338" width="14.25" height="1" fill="#0000bf"/>
<rect x="285.25" y="339" width="14.25" height="2" fill="#00009f"/>
<rect x="285.25" y="443" width="14.25" height="2" fill="#00009f"/>
<rect x="285.25" y="445" width="14.25" height="1" fill="#0000af"/>
<rect x="285.25" y="446" width="14.25" height="1" fill="#0000bf"/>
<rect x="285.25" y="447" width="14.25" height="1" fill="#0000cf"/>
<rect x="285.25" y="448" width="14.25" height="1" fill="#0000df"/>
<rect x="285.25" y="449" width="14.25" height="1" fill="#0010ff"/>
<rect x="285.25" y="450" width="14.25" height="1" fill="#0030ff"/>
<rect x="299.50" y="199" width="7.50" height="2" fill="#00009f"/>
<rect x="299.50" y="201" width="7.50" height="1" fill="#0000bf"/>
<rect x="299.50" y="202" width="7.50" height="1" fill="#0000df"/>
<rect x="299.50" y="203" width="7.50" height="1" fill="#0020ff"/>
<rect x="299.50" y="204" width="7.50" height="1" fill="#0060ff"/>
<rect x="299.50" y="205" width="7.50" height="1" fill="#009fff"/>
<rect x="299.50" y="206" width="7.50" height="1" fill="#00dfff"/>
<rect x="299.50" y="207" width="7.50" height="1" fill="#00ffff"/>
<rect x="299.50" y="208" width="7.50" height="2" fill="#10ffef"/>
<rect x="299.50" y="210" width="7.50" height="1" fill="#00dfff"/>
<rect x="299.50" y="211" width="7.50" height="1" fill="#00afff"/>
<rect x="299.50" y="212" width="7.50" height="1" fill="#0060ff"/>
<rect x="299.50" y="213" width="7.50" height="1" fill="#0020ff"/>
<rect x="299.50" y="214" width="7.50" height="1" fill="#0000ef"/>
<rect x="299.50" y="215" width="7.50" height="1" fill="#0000bf"/>
<rect x="299.50" y="216" width="7.50" height="1" fill="#0000af"/>
<rect x="299.50" y="217" width="7.50" height="1" fill="#00009f"/>
<rect x="299.50" y="320" width="7.50" height="1" fill="#00009f"/>
<rect x="299.50" y="321" width="7.50" height="1" fill="#0000af"/>
<rect x="299.50" y="322" width="7.50" height="1" fill="#0000bf"/>
<rect x="299.50" y="323" width="7.50" height="1" fill="#0000df"/>
<rect x="299.50" y="324" width="7.50" height="1" fill="#0010ff"/>
<rect x="299.50" y="325" width="7.50" height="1" fill="#0050ff"/>
<rect x="299.50" y="326" width="7.50" height="1" fill="#008fff"/>
<rect x="299.50" y="327" width="7.50" height="1" fill="#00bfff"/>
<rect x="299.50" y="328" width="7.50" height="1" fill="#00efff"/>
<rect x="299.50" y="329" width="7.50" height="2" fill="#10ffef"/>
<rect x="299.50" y="331" width="7.50" height="1" fill="#00efff"/>
<rect x="299.50" y="332" width="7.50" height="1" fill="#00bfff"/>
<rect x="299.50" y="333" width="7.50" height="1" fill="#008fff"/>
<rect x="299.50" y="334" width="7.50" height="1" fill="#0050ff"/>
<rect x="299.50" y="335" width="7.50" height="1" fill="#0010ff"/>
<rect x="299.50" y="336" width="7.50" height="1" fill="#0000df"/>
<rect x="299.50" y="337" width="7.50" height="1" fill="#0000bf"/>
<rect x="299.50" y="338" width="7.50" height="1" fill="#0000af"/>
<rect x="299.50" y="339" width="7.50" height="1" fill="#00009f"/>
<rect x="299.50" y="444" width="7.50" height="2" fill="#00009f"/>
<rect x="299.50" y="446" width="7.50" height="1" fill="#0000af"/>
<rect x="299.50" y="447" width="7.50" height="1" fill="#0000bf"/>
<rect x="299.50" y="448" width="7.50" height="1" fill="#0000cf"/>
<rect x="299.50" y="449" width="7.50" height="1" fill="#0000ef"/>
<rect x="299.50" y="450" width="7.50" height="1" fill="#0020ff"/>
<rect x="43.5" y="35.5" width="263.0" height="415.0" fill="none" stroke="#000" stroke-width="1"/>
<path d="M78.2 36.0v4M78.2 450.0v-4M135.3 36.0v4M135.3 450.0v-4M192.4 36.0v4M192.4 450.0v-4M249.5 36.0v4M249.5 450.0v-4M44.0 367.8h4M306.0 367.8h-4M44.0 284.6h4M306.0 284.6h-4M44.0 201.4h4M306.0 201.4h-4M44.0 118.2h4M306.0 118.2h-4" stroke="#000022" stroke-width="1" fill="none"/>
<text x="221.5" y="194.6" font-size="16.5" fill="#fff">TO+TA</text>
<text x="221.5" y="369.2" font-size="16.5" fill="#fff">TO−TA</text>
<text x="110.8" y="398.2" font-size="16.5" fill="#fff">2TA</text>
<text x="37" y="456.6" font-size="16" text-anchor="end">0</text>
<text x="37" y="373.4" font-size="16" text-anchor="end">1</text>
<text x="37" y="290.2" font-size="16" text-anchor="end">2</text>
<text x="37" y="207.0" font-size="16" text-anchor="end">3</text>
<text x="37" y="123.8" font-size="16" text-anchor="end">4</text>
<text x="37" y="40.6" font-size="16" text-anchor="end">5</text>
<text x="78.2" y="470.4" font-size="16" text-anchor="middle">0.2</text>
<text x="135.3" y="470.4" font-size="16" text-anchor="middle">0.4</text>
<text x="192.4" y="470.4" font-size="16" text-anchor="middle">0.6</text>
<text x="249.5" y="470.4" font-size="16" text-anchor="middle">0.8</text>
<text x="306.5" y="470.4" font-size="16" text-anchor="middle">1</text>
<text x="175" y="25.5" font-size="15.8" text-anchor="middle">Simulation</text>
<text x="0.5" y="19.5" font-size="23" font-weight="bold">a</text>
<text transform="translate(14.2,242.8) rotate(-90)" font-size="16" text-anchor="middle">Frequency (THz)</text>
<text x="174.6" y="494.2" font-size="16" text-anchor="middle"><tspan font-weight="bold">q</tspan>, l<tspan font-style="italic">q</tspan><tspan font-size="11" dy="4">y</tspan><tspan dy="-4">l coord (rlu)</tspan></text>
<rect x="340" y="35" width="263" height="416" fill="#00008f"/>
<rect x="340.00" y="268.5" width="12.60" height="10.5" fill="#0030ff"/>
<rect x="340.00" y="292.5" width="12.60" height="13.3" fill="#0030ff"/>
<rect x="340.00" y="319.0" width="12.60" height="15.0" fill="#0050ff"/>
<rect x="340.00" y="336.0" width="12.60" height="17.0" fill="#00afff"/>
<rect x="340.00" y="353.0" width="12.60" height="13.0" fill="#0000bf"/>
<rect x="340.00" y="368.0" width="12.60" height="7.0" fill="#00dfff"/>
<rect x="340.00" y="375.0" width="12.60" height="8.0" fill="#00dfff"/>
<rect x="340.00" y="383.0" width="12.60" height="6.0" fill="#0070ff"/>
<rect x="340.00" y="389.0" width="12.60" height="13.0" fill="#00009f"/>
<rect x="340.00" y="402.0" width="12.60" height="3.0" fill="#0070ff"/>
<rect x="340.00" y="405.0" width="12.60" height="4.0" fill="#30ffcf"/>
<rect x="340.00" y="409.0" width="12.60" height="5.0" fill="#ffef00"/>
<rect x="340.00" y="414.0" width="12.60" height="4.7" fill="#ff8000"/>
<rect x="340.00" y="418.7" width="12.60" height="14.3" fill="#ff3000"/>
<rect x="340.00" y="433.0" width="12.60" height="9.0" fill="#ff8f00"/>
<rect x="340.00" y="442.0" width="12.60" height="9.0" fill="#ff6000"/>
<rect x="352.60" y="214.0" width="14.25" height="6.5" fill="#0000af"/>
<rect x="352.60" y="238.0" width="14.25" height="5.5" fill="#00009f"/>
<rect x="352.60" y="279.0" width="14.25" height="19.0" fill="#0020ff"/>
<rect x="352.60" y="323.0" width="14.25" height="7.0" fill="#0000af"/>
<rect x="352.60" y="368.0" width="14.25" height="7.0" fill="#0070ff"/>
<rect x="352.60" y="375.0" width="14.25" height="9.5" fill="#00efff"/>
<rect x="352.60" y="384.5" width="14.25" height="9.5" fill="#009fff"/>
<rect x="352.60" y="394.0" width="14.25" height="4.0" fill="#00ffff"/>
<rect x="352.60" y="398.0" width="14.25" height="5.6" fill="#bfff40"/>
<rect x="352.60" y="403.6" width="14.25" height="15.9" fill="#ff8f00"/>
<rect x="352.60" y="419.5" width="14.25" height="6.5" fill="#ffff00"/>
<rect x="352.60" y="426.0" width="14.25" height="6.0" fill="#70ff8f"/>
<rect x="352.60" y="432.0" width="14.25" height="4.0" fill="#0020ff"/>
<rect x="352.60" y="449.0" width="14.25" height="2.0" fill="#0050ff"/>
<rect x="366.85" y="258.0" width="14.25" height="10.5" fill="#0000df"/>
<rect x="366.85" y="307.6" width="14.25" height="7.4" fill="#0000bf"/>
<rect x="366.85" y="345.0" width="14.25" height="13.6" fill="#009fff"/>
<rect x="366.85" y="358.6" width="14.25" height="5.4" fill="#0020ff"/>
<rect x="366.85" y="372.0" width="14.25" height="3.0" fill="#0020ff"/>
<rect x="366.85" y="375.0" width="14.25" height="8.0" fill="#0020ff"/>
<rect x="366.85" y="383.0" width="14.25" height="8.0" fill="#00cfff"/>
<rect x="366.85" y="391.0" width="14.25" height="6.0" fill="#9fff60"/>
<rect x="366.85" y="397.0" width="14.25" height="11.4" fill="#ffff00"/>
<rect x="366.85" y="408.4" width="14.25" height="23.6" fill="#70ff8f"/>
<rect x="366.85" y="432.0" width="14.25" height="3.0" fill="#0020ff"/>
<rect x="366.85" y="436.5" width="14.25" height="3.0" fill="#00ffff"/>
<rect x="366.85" y="439.5" width="14.25" height="3.9" fill="#ffff00"/>
<rect x="366.85" y="443.4" width="14.25" height="2.3" fill="#ff8f00"/>
<rect x="366.85" y="445.7" width="14.25" height="5.3" fill="#ff1000"/>
<rect x="381.10" y="63.7" width="14.25" height="5.3" fill="#0000af"/>
<rect x="381.10" y="262.0" width="14.25" height="5.5" fill="#0000df"/>
<rect x="381.10" y="267.5" width="14.25" height="14.5" fill="#008fff"/>
<rect x="381.10" y="322.8" width="14.25" height="17.0" fill="#0030ff"/>
<rect x="381.10" y="339.8" width="14.25" height="7.2" fill="#0000df"/>
<rect x="381.10" y="347.0" width="14.25" height="11.6" fill="#0030ff"/>
<rect x="381.10" y="373.7" width="14.25" height="1.3" fill="#20ffdf"/>
<rect x="381.10" y="375.0" width="14.25" height="16.0" fill="#50ffaf"/>
<rect x="381.10" y="391.0" width="14.25" height="6.0" fill="#10ffef"/>
<rect x="381.10" y="397.0" width="14.25" height="11.0" fill="#0000bf"/>
<rect x="381.10" y="410.0" width="14.25" height="12.7" fill="#0050ff"/>
<rect x="381.10" y="422.7" width="14.25" height="28.3" fill="#0000bf"/>
<rect x="395.35" y="255.0" width="14.25" height="13.5" fill="#0050ff"/>
<rect x="395.35" y="268.5" width="14.25" height="8.5" fill="#0030ff"/>
<rect x="395.35" y="334.0" width="14.25" height="7.6" fill="#0050ff"/>
<rect x="395.35" y="341.6" width="14.25" height="22.7" fill="#009fff"/>
<rect x="395.35" y="364.3" width="14.25" height="10.7" fill="#00dfff"/>
<rect x="395.35" y="375.0" width="14.25" height="8.0" fill="#00dfff"/>
<rect x="395.35" y="383.0" width="14.25" height="5.0" fill="#0020ff"/>
<rect x="395.35" y="402.0" width="14.25" height="12.7" fill="#0000df"/>
<rect x="395.35" y="422.7" width="14.25" height="14.3" fill="#0020ff"/>
<rect x="409.60" y="256.0" width="14.25" height="6.0" fill="#0040ff"/>
<rect x="409.60" y="262.0" width="14.25" height="10.0" fill="#0060ff"/>
<rect x="409.60" y="272.0" width="14.25" height="5.0" fill="#0030ff"/>
<rect x="409.60" y="339.0" width="14.25" height="3.0" fill="#0050ff"/>
<rect x="409.60" y="342.0" width="14.25" height="8.0" fill="#00bfff"/>
<rect x="409.60" y="350.0" width="14.25" height="14.0" fill="#10ffef"/>
<rect x="409.60" y="364.0" width="14.25" height="8.0" fill="#0030ff"/>
<rect x="423.85" y="238.0" width="14.25" height="16.0" fill="#0000df"/>
<rect x="423.85" y="340.0" width="14.25" height="20.5" fill="#009fff"/>
<rect x="423.85" y="402.0" width="14.25" height="8.0" fill="#0000df"/>
<rect x="423.85" y="421.0" width="14.25" height="9.6" fill="#0070ff"/>
<rect x="423.85" y="438.6" width="14.25" height="4.4" fill="#00ffff"/>
<rect x="423.85" y="443.0" width="14.25" height="8.0" fill="#bfff40"/>
<rect x="438.10" y="150.0" width="14.25" height="6.0" fill="#0000bf"/>
<rect x="438.10" y="231.0" width="14.25" height="4.0" fill="#0030ff"/>
<rect x="438.10" y="235.0" width="14.25" height="17.0" fill="#009fff"/>
<rect x="438.10" y="330.0" width="14.25" height="17.0" fill="#0030ff"/>
<rect x="452.35" y="194.0" width="14.25" height="10.0" fill="#0000bf"/>
<rect x="452.35" y="224.7" width="14.25" height="22.9" fill="#0030ff"/>
<rect x="452.35" y="349.0" width="14.25" height="11.5" fill="#0030ff"/>
<rect x="452.35" y="438.6" width="14.25" height="4.8" fill="#00ffff"/>
<rect x="452.35" y="443.4" width="14.25" height="7.6" fill="#8fff70"/>
<rect x="466.60" y="222.6" width="14.25" height="16.4" fill="#0030ff"/>
<rect x="466.60" y="339.8" width="14.25" height="15.2" fill="#0060ff"/>
<rect x="466.60" y="446.0" width="14.25" height="5.0" fill="#0020ff"/>
<rect x="480.85" y="218.4" width="14.25" height="16.6" fill="#008fff"/>
<rect x="480.85" y="235.0" width="14.25" height="2.0" fill="#0030ff"/>
<rect x="480.85" y="328.4" width="14.25" height="18.9" fill="#0070ff"/>
<rect x="480.85" y="347.3" width="14.25" height="9.7" fill="#0030ff"/>
<rect x="480.85" y="445.0" width="14.25" height="6.0" fill="#0030ff"/>
<rect x="495.10" y="199.6" width="14.25" height="6.4" fill="#00009f"/>
<rect x="495.10" y="224.7" width="14.25" height="11.3" fill="#0030ff"/>
<rect x="495.10" y="319.0" width="14.25" height="15.0" fill="#0030ff"/>
<rect x="495.10" y="338.0" width="14.25" height="13.0" fill="#009fff"/>
<rect x="495.10" y="375.0" width="14.25" height="5.0" fill="#0000bf"/>
<rect x="495.10" y="403.6" width="14.25" height="8.0" fill="#0000bf"/>
<rect x="509.35" y="91.0" width="14.25" height="6.0" fill="#0000bf"/>
<rect x="509.35" y="216.0" width="14.25" height="13.0" fill="#0030ff"/>
<rect x="509.35" y="313.0" width="14.25" height="11.6" fill="#0020ff"/>
<rect x="509.35" y="326.5" width="14.25" height="15.1" fill="#00bfff"/>
<rect x="509.35" y="341.6" width="14.25" height="5.7" fill="#0030ff"/>
<rect x="523.60" y="212.0" width="14.25" height="15.0" fill="#0070ff"/>
<rect x="523.60" y="294.0" width="14.25" height="8.0" fill="#0000bf"/>
<rect x="523.60" y="321.0" width="14.25" height="5.5" fill="#0060ff"/>
<rect x="523.60" y="326.5" width="14.25" height="15.1" fill="#00cfff"/>
<rect x="523.60" y="341.6" width="14.25" height="5.7" fill="#0020ff"/>
<rect x="523.60" y="362.4" width="14.25" height="7.6" fill="#0020ff"/>
<rect x="523.60" y="405.0" width="14.25" height="8.0" fill="#0000df"/>
<rect x="537.85" y="214.0" width="14.25" height="7.0" fill="#0000bf"/>
<rect x="537.85" y="285.0" width="14.25" height="7.5" fill="#0000bf"/>
<rect x="537.85" y="324.6" width="14.25" height="20.8" fill="#10ffef"/>
<rect x="537.85" y="353.0" width="14.25" height="7.5" fill="#0020ff"/>
<rect x="537.85" y="387.7" width="14.25" height="4.8" fill="#0000df"/>
<rect x="537.85" y="405.0" width="14.25" height="6.6" fill="#0030ff"/>
<rect x="537.85" y="419.5" width="14.25" height="3.2" fill="#0050ff"/>
<rect x="537.85" y="422.7" width="14.25" height="7.3" fill="#00efff"/>
<rect x="537.85" y="430.0" width="14.25" height="2.5" fill="#0030ff"/>
<rect x="537.85" y="436.0" width="14.25" height="2.6" fill="#70ff8f"/>
<rect x="537.85" y="438.6" width="14.25" height="3.2" fill="#ff9f00"/>
<rect x="537.85" y="441.8" width="14.25" height="9.2" fill="#ff0000"/>
<rect x="552.10" y="208.0" width="14.25" height="15.6" fill="#0040ff"/>
<rect x="552.10" y="238.0" width="14.25" height="13.8" fill="#0050ff"/>
<rect x="552.10" y="320.0" width="14.25" height="4.6" fill="#10ffef"/>
<rect x="552.10" y="324.6" width="14.25" height="15.2" fill="#bfff40"/>
<rect x="552.10" y="339.8" width="14.25" height="5.6" fill="#20ffdf"/>
<rect x="552.10" y="355.0" width="14.25" height="7.4" fill="#008fff"/>
<rect x="552.10" y="402.8" width="14.25" height="8.8" fill="#0050ff"/>
<rect x="552.10" y="419.5" width="14.25" height="3.2" fill="#008fff"/>
<rect x="552.10" y="422.7" width="14.25" height="7.3" fill="#00efff"/>
<rect x="552.10" y="430.0" width="14.25" height="2.5" fill="#0030ff"/>
<rect x="552.10" y="436.0" width="14.25" height="2.6" fill="#70ff8f"/>
<rect x="552.10" y="438.6" width="14.25" height="3.2" fill="#ff9f00"/>
<rect x="552.10" y="441.8" width="14.25" height="9.2" fill="#ff0000"/>
<rect x="566.35" y="158.0" width="14.25" height="6.0" fill="#0000bf"/>
<rect x="566.35" y="207.0" width="14.25" height="15.6" fill="#008fff"/>
<rect x="566.35" y="237.0" width="14.25" height="6.0" fill="#0000bf"/>
<rect x="566.35" y="318.0" width="14.25" height="3.0" fill="#008fff"/>
<rect x="566.35" y="321.0" width="14.25" height="20.6" fill="#bfff40"/>
<rect x="566.35" y="341.6" width="14.25" height="3.4" fill="#20ffdf"/>
<rect x="566.35" y="405.0" width="14.25" height="5.0" fill="#0000df"/>
<rect x="566.35" y="437.5" width="14.25" height="5.1" fill="#00bfff"/>
<rect x="566.35" y="442.6" width="14.25" height="8.4" fill="#00ffff"/>
<rect x="580.60" y="199.6" width="14.25" height="19.8" fill="#008fff"/>
<rect x="580.60" y="298.0" width="14.25" height="8.0" fill="#0030ff"/>
<rect x="580.60" y="322.0" width="14.25" height="19.6" fill="#bfff40"/>
<rect x="580.60" y="341.6" width="14.25" height="3.4" fill="#10ffef"/>
<rect x="580.60" y="356.8" width="14.25" height="5.6" fill="#0020ff"/>
<rect x="580.60" y="442.0" width="14.25" height="9.0" fill="#0030ff"/>
<rect x="594.85" y="243.5" width="8.15" height="10.5" fill="#0030ff"/>
<rect x="594.85" y="322.0" width="8.15" height="21.6" fill="#50ffaf"/>
<rect x="594.85" y="384.5" width="8.15" height="8.0" fill="#0000df"/>
<rect x="594.85" y="419.5" width="8.15" height="9.5" fill="#0060ff"/>
<rect x="594.85" y="435.0" width="8.15" height="3.6" fill="#0070ff"/>
<rect x="594.85" y="438.6" width="8.15" height="6.4" fill="#ffef00"/>
<rect x="594.85" y="445.0" width="8.15" height="6.0" fill="#ff8f00"/>
<rect x="340.5" y="35.5" width="262.0" height="415.0" fill="none" stroke="#000" stroke-width="1"/>
<path d="M373.6 36.0v4M373.6 450.0v-4M430.7 36.0v4M430.7 450.0v-4M487.8 36.0v4M487.8 450.0v-4M544.9 36.0v4M544.9 450.0v-4M341.0 367.8h4M602.0 367.8h-4M341.0 284.6h4M602.0 284.6h-4M341.0 201.4h4M602.0 201.4h-4M341.0 118.2h4M602.0 118.2h-4" stroke="#000022" stroke-width="1" fill="none"/>
<text x="333.5" y="456.6" font-size="16" text-anchor="end">0</text>
<text x="333.5" y="373.4" font-size="16" text-anchor="end">1</text>
<text x="333.5" y="290.2" font-size="16" text-anchor="end">2</text>
<text x="333.5" y="207.0" font-size="16" text-anchor="end">3</text>
<text x="333.5" y="123.8" font-size="16" text-anchor="end">4</text>
<text x="333.5" y="40.6" font-size="16" text-anchor="end">5</text>
<text x="373.6" y="470.4" font-size="16" text-anchor="middle">0.2</text>
<text x="430.7" y="470.4" font-size="16" text-anchor="middle">0.4</text>
<text x="487.8" y="470.4" font-size="16" text-anchor="middle">0.6</text>
<text x="544.9" y="470.4" font-size="16" text-anchor="middle">0.8</text>
<text x="602.0" y="470.4" font-size="16" text-anchor="middle">1</text>
<text x="471.3" y="25.5" font-size="16" text-anchor="middle">Experiment</text>
<text x="323.5" y="19.5" font-size="23" font-weight="bold">b</text>
<text x="471.2" y="494.2" font-size="16" text-anchor="middle"><tspan font-weight="bold">q</tspan>, l<tspan font-style="italic">q</tspan><tspan font-size="11" dy="4">y</tspan><tspan dy="-4">l coord (rlu)</tspan></text>
<g fill="none" stroke-linejoin="round" stroke-linecap="round" shape-rendering="auto" clip-path="url(#cclip)">
<clipPath id="cclip"><rect x="683.5" y="36" width="262" height="415"/></clipPath>
<polyline points="727.6,107.2 728.7,108.1 729.8,110.6 730.9,114.3 732.0,118.6 733.1,123.0 734.2,126.7 735.3,129.2 736.4,130.1 737.3,129.8 738.2,128.8 739.2,127.3 740.1,125.6 741.0,123.9 741.9,122.4 742.9,121.4 743.8,121.1 744.7,121.4 745.5,122.3 746.4,123.7 747.2,125.3 748.1,127.0 749.0,128.4 749.8,129.3 750.7,129.6 751.9,128.8 753.1,126.5 754.3,123.1 755.5,119.0 756.6,115.0 757.8,111.6 759.0,109.3 760.2,108.5 761.3,109.3 762.5,111.4 763.6,114.7 764.7,118.5 765.8,122.3 767.0,125.6 768.1,127.7 769.2,128.5 770.2,128.2 771.2,127.4 772.2,126.2 773.2,124.8 774.1,123.4 775.1,122.2 776.1,121.4 777.1,121.1 778.0,121.4 778.8,122.3 779.7,123.6 780.5,125.1 781.4,126.6 782.3,127.9 783.1,128.8 784.0,129.1 785.3,128.3 786.6,126.2 787.9,122.9 789.2,119.0 790.6,115.2 791.9,111.9 793.2,109.8 794.5,109.0 795.6,109.7 796.8,111.8 797.9,114.9 799.0,118.5 800.1,122.1 801.2,125.2 802.4,127.3 803.5,128.0 804.4,127.7 805.2,127.0 806.1,125.9 807.0,124.5 807.8,123.2 808.7,122.1 809.5,121.4 810.4,121.1 811.3,121.4 812.2,122.1 813.1,123.2 814.0,124.4 814.8,125.7 815.7,126.8 816.6,127.5 817.5,127.8 818.6,127.2 819.7,125.3 820.8,122.6 822.0,119.3 823.1,116.0 824.2,113.3 825.3,111.4 826.4,110.8 827.5,111.4 828.6,113.1 829.7,115.6 830.8,118.6 831.8,121.7 832.9,124.2 834.0,125.9 835.1,126.5 836.2,126.3 837.3,125.7 838.4,124.8 839.5,123.8 840.6,122.7 841.7,121.8 842.8,121.2 843.9,121.0 844.7,121.3 845.5,122.0 846.3,123.0 847.1,124.3 848.0,125.6 848.8,126.6 849.6,127.3 850.4,127.6 851.6,127.0 852.9,125.3 854.1,122.7 855.3,119.7 856.6,116.6 857.8,114.0 859.1,112.3 860.3,111.7 861.4,112.3 862.5,113.9 863.6,116.3 864.6,119.1 865.7,121.9 866.8,124.3 867.9,125.9 869.0,126.5 870.0,126.3 870.9,125.7 871.9,124.8 872.9,123.8 873.8,122.7 874.8,121.8 875.7,121.2 876.7,121.0 877.7,121.2 878.6,121.9 879.5,122.9 880.5,124.0 881.5,125.1 882.4,126.1 883.3,126.8 884.3,127.0 885.4,126.4 886.5,124.8 887.6,122.5 888.7,119.7 889.8,116.8 890.9,114.5 892.0,112.9 893.1,112.3 894.3,112.8 895.5,114.3 896.8,116.6 898.0,119.2 899.2,121.8 900.5,124.1 901.7,125.6 902.9,126.1 903.9,125.9 904.8,125.4 905.8,124.5 906.8,123.5 907.7,122.6 908.7,121.7 909.6,121.2 910.6,121.0 911.4,121.2 912.2,121.9 913.0,122.9 913.9,124.0 914.7,125.1 915.5,126.1 916.3,126.8 917.1,127.0 918.3,126.5 919.6,124.9 920.8,122.7 922.0,120.0 923.3,117.3 924.5,115.1 925.8,113.5 927.0,113.0 928.1,113.5 929.2,114.8 930.3,116.8 931.4,119.2 932.4,121.6 933.5,123.6 934.6,124.9 935.7,125.4 936.9,125.2 938.2,124.7 939.4,123.9 940.6,122.9 941.8,121.9 943.0,121.1 944.3,120.6 945.5,120.4" stroke="#eba832" stroke-width="1.7"/>
<polyline points="727.1,190.5 728.3,191.2 729.5,193.1 730.8,196.1 732.0,199.5 733.2,202.9 734.5,205.9 735.7,207.8 736.9,208.5 737.9,208.1 738.8,207.1 739.8,205.6 740.8,203.8 741.7,202.1 742.7,200.6 743.6,199.6 744.6,199.2 745.6,199.7 746.5,201.0 747.5,202.9 748.4,205.2 749.4,207.5 750.3,209.4 751.2,210.7 752.2,211.2 753.5,210.5 754.8,208.4 756.1,205.4 757.4,201.8 758.7,198.2 760.0,195.2 761.3,193.1 762.6,192.4 763.8,192.9 765.1,194.2 766.3,196.2 767.5,198.5 768.8,200.8 770.0,202.8 771.3,204.1 772.5,204.6 773.3,204.4 774.1,203.7 774.9,202.7 775.8,201.6 776.6,200.5 777.4,199.5 778.2,198.8 779.0,198.6 780.1,199.1 781.2,200.6 782.3,202.8 783.4,205.3 784.5,207.9 785.6,210.1 786.7,211.6 787.8,212.1 789.1,211.4 790.5,209.3 791.8,206.3 793.1,202.7 794.5,199.1 795.8,196.1 797.2,194.0 798.5,193.3 799.6,193.6 800.7,194.4 801.8,195.6 802.9,196.9 803.9,198.3 805.0,199.5 806.1,200.3 807.2,200.6 808.1,200.5 808.9,200.1 809.8,199.6 810.7,198.9 811.5,198.2 812.4,197.7 813.2,197.3 814.1,197.2 815.2,197.8 816.4,199.4 817.5,201.9 818.6,204.8 819.7,207.6 820.9,210.1 822.0,211.7 823.1,212.3 824.3,211.6 825.6,209.7 826.8,206.9 828.0,203.6 829.3,200.2 830.5,197.4 831.8,195.5 833.0,194.8 834.0,195.0 834.9,195.4 835.9,196.2 836.8,197.0 837.8,197.8 838.7,198.6 839.6,199.0 840.6,199.2 841.7,199.1 842.8,198.8 843.9,198.3 845.0,197.8 846.1,197.2 847.2,196.7 848.3,196.4 849.4,196.3 850.6,196.9 851.9,198.4 853.1,200.8 854.3,203.6 855.5,206.3 856.8,208.7 858.0,210.2 859.2,210.8 860.3,210.3 861.4,208.8 862.5,206.5 863.5,203.9 864.6,201.3 865.7,199.0 866.8,197.5 867.9,197.0 868.9,197.1 869.8,197.3 870.8,197.7 871.8,198.1 872.7,198.5 873.7,198.9 874.6,199.1 875.6,199.2 876.7,199.1 877.8,198.8 878.9,198.3 880.0,197.8 881.0,197.2 882.1,196.7 883.2,196.4 884.3,196.3 885.5,196.8 886.8,198.2 888.0,200.4 889.2,202.9 890.5,205.4 891.7,207.6 893.0,209.0 894.2,209.5 895.4,209.0 896.7,207.7 897.9,205.6 899.1,203.2 900.3,200.9 901.5,198.8 902.8,197.5 904.0,197.0 905.0,197.1 905.9,197.3 906.9,197.7 907.9,198.1 908.8,198.5 909.8,198.9 910.7,199.1 911.7,199.2 912.7,199.1 913.6,198.7 914.5,198.2 915.5,197.6 916.5,196.9 917.4,196.4 918.3,196.0 919.3,195.9 920.5,196.4 921.8,197.7 923.0,199.6 924.2,201.9 925.5,204.2 926.7,206.1 928.0,207.4 929.2,207.9 930.4,207.5 931.7,206.5 932.9,204.9 934.1,203.0 935.3,201.1 936.5,199.5 937.8,198.5 939.0,198.1 939.8,198.2 940.6,198.4 941.4,198.8 942.2,199.2 943.1,199.6 943.9,200.0 944.7,200.2 945.5,200.3" stroke="#eba832" stroke-width="1.7"/>
<polyline points="726.5,271.0 726.7,272.3 727.1,274.0 727.5,276.0 727.9,278.6 728.4,281.8 728.9,285.8 729.5,291.0 730.1,297.5 730.8,304.5 731.5,311.7 732.2,318.3 732.8,323.9 733.3,328.4 733.7,332.3 734.1,335.7 734.5,338.6 734.9,341.3 735.4,343.7 735.9,345.9 736.5,347.7 737.1,349.3 737.7,350.5 738.3,351.5 738.8,352.1 739.3,352.5 739.7,352.5 740.1,352.3 740.6,351.8 741.1,350.9 741.7,349.7 742.4,348.1 743.2,346.1 744.0,343.8 744.9,341.3 745.8,338.6 746.7,335.8 747.6,332.7 748.5,329.3 749.4,325.6 750.3,322.0 751.2,318.7 752.1,315.9 753.0,313.5 754.0,311.3 754.9,309.3 755.9,307.7 756.8,306.5 757.7,305.6 758.5,305.3 759.3,305.6 760.1,306.2 760.9,307.0 761.7,307.8 762.6,308.3 763.5,308.6 764.6,308.9 765.6,309.2 766.6,309.4 767.6,309.6 768.6,309.9 769.5,310.1 770.3,310.3 771.2,310.4 772.0,310.6 772.8,311.0 773.6,311.5 774.4,312.2 775.2,313.1 776.1,314.1 776.9,315.2 777.7,316.5 778.5,317.9 779.3,319.6 780.2,321.5 781.0,323.6 781.8,325.8 782.7,327.9 783.5,329.8 784.3,331.6 785.2,333.5 786.0,335.2 786.8,336.9 787.7,338.5 788.5,339.8 789.3,341.0 790.1,342.0 790.9,342.9 791.7,343.7 792.5,344.3 793.4,344.7 794.3,345.0 795.2,345.0 796.2,344.9 797.2,344.7 798.2,344.4 799.4,344.1 800.7,343.7 802.1,343.2 803.6,342.7 805.1,342.1 806.6,341.4 808.0,340.7 809.4,340.0 810.8,339.3 812.1,338.6 813.4,337.7 814.7,336.8 815.9,335.7 817.0,334.4 818.0,333.0 819.0,331.4 820.0,329.8 820.9,328.2 821.9,326.7 822.9,325.2 823.9,323.6 824.9,322.1 825.9,320.5 826.9,319.1 827.9,317.8 828.9,316.6 829.9,315.4 830.9,314.4 831.8,313.4 832.8,312.5 833.8,311.8 834.8,311.2 835.8,310.7 836.8,310.3 837.8,310.0 838.8,309.9 839.8,309.8 840.8,309.8 841.8,310.0 842.8,310.2 843.8,310.6 844.8,311.1 845.8,311.8 846.8,312.6 847.8,313.7 848.7,314.8 849.7,316.1 850.7,317.4 851.7,318.8 852.7,320.3 853.7,321.9 854.7,323.6 855.7,325.4 856.7,327.1 857.7,328.7 858.7,330.3 859.7,331.9 860.7,333.5 861.7,335.0 862.7,336.4 863.7,337.7 864.7,338.9 865.6,340.0 866.5,341.0 867.5,341.9 868.5,342.6 869.6,343.3 870.8,343.8 872.2,344.2 873.6,344.5 875.0,344.7 876.4,344.8 877.6,344.7 878.7,344.5 879.7,344.2 880.7,343.7 881.6,343.2 882.5,342.5 883.5,341.7 884.5,340.8 885.5,339.7 886.5,338.6 887.5,337.3 888.5,336.0 889.5,334.7 890.5,333.3 891.5,331.8 892.5,330.3 893.5,328.8 894.5,327.3 895.5,325.8 896.5,324.4 897.5,323.0 898.5,321.6 899.5,320.3 900.5,319.0 901.5,317.8 902.5,316.6 903.4,315.5 904.4,314.4 905.4,313.4 906.4,312.5 907.4,311.8 908.5,311.2 909.7,310.7 910.9,310.3 912.1,310.0 913.3,309.9 914.4,309.8 915.4,309.8 916.4,310.0 917.4,310.2 918.4,310.6 919.4,311.1 920.4,311.8 921.5,312.6 922.6,313.7 923.7,314.8 924.9,316.1 926.1,317.4 927.3,318.8 928.6,320.3 930.0,322.0 931.4,323.7 932.7,325.5 934.1,327.2 935.3,328.7 936.4,330.1 937.5,331.3 938.5,332.5 939.4,333.6 940.3,334.7 941.2,335.7 942.1,336.7 942.9,337.6 943.7,338.5 944.4,339.3 945.1,340.0 945.5,340.5" stroke="#eba832" stroke-width="1.7"/>
<polyline points="684.0,107.7 687.8,109.5 692.3,107.3 697.5,107.3 702.4,102.8 707.2,106.4 712.4,107.9 716.9,105.6 720.8,106.6 724.0,109.9 727.3,115.7 729.8,126.0 732.4,136.4 734.4,142.8 736.8,150.8 741.3,152.6 746.2,147.6 751.1,145.9 753.3,138.3 756.0,128.4 760.9,122.6 765.9,130.2 770.8,138.3 775.2,132.4 779.7,128.4 785.1,123.9 788.7,117.7 794.5,106.6 799.3,111.6 804.6,114.3 809.3,115.3 814.1,110.0 818.7,107.3 824.2,99.2 828.6,95.3 833.0,96.3 838.4,94.4 843.9,97.7 848.3,97.4 852.6,90.9 858.1,86.1 862.5,73.4 867.9,77.3 872.3,82.8 877.8,80.6 882.1,80.2 886.5,82.8 892.0,72.5 897.5,70.8 901.8,69.0 906.2,78.9 911.7,76.2 917.1,71.9 921.5,67.5 928.1,63.1 935.7,59.2 941.2,60.5 945.5,65.3" stroke="#111" stroke-width="1.6"/>
<polyline points="684.4,189.4 688.8,190.5 693.1,189.4 697.5,192.0 701.9,188.3 707.4,186.1 712.8,191.6 717.2,192.0 722.2,190.5 727.1,198.1 729.3,209.0 731.5,222.2 736.4,228.7 741.3,232.0 746.2,229.3 751.7,233.1 756.1,226.0 760.4,211.8 765.4,213.6 770.8,221.6 775.7,221.1 780.7,215.9 785.6,214.5 790.0,214.7 795.4,206.3 800.0,198.7 804.7,202.5 810.2,201.4 814.4,197.7 818.7,201.4 824.2,203.6 828.6,195.9 833.6,188.9 838.4,190.4 843.9,192.2 848.3,190.9 852.6,188.9 857.7,191.5 862.5,184.5 867.3,179.5 872.3,180.6 877.8,178.9 882.1,178.4 887.0,178.4 892.0,170.8 897.0,176.7 901.8,174.0 906.6,170.3 911.7,171.9 916.0,172.3 921.5,172.3 925.9,167.1 930.7,170.1 935.7,167.5 940.7,164.2 945.5,165.7" stroke="#111" stroke-width="1.6"/>
<polyline points="684.0,273.1 688.3,271.9 693.1,270.3 697.9,271.9 702.7,275.0 707.4,273.4 712.2,273.8 717.0,272.2 721.7,272.7 725.3,278.6 727.7,287.0 728.8,300.0 730.1,310.0 732.8,329.8 735.8,361.6 738.8,373.6 741.4,384.5 746.7,376.5 751.3,351.7 756.1,333.8 760.6,330.8 765.6,331.4 770.6,330.2 775.5,326.8 780.5,329.4 785.5,335.8 790.5,341.7 794.4,343.3 799.4,335.8 805.0,333.3 809.9,332.7 814.9,331.3 818.9,329.3 823.9,322.8 828.8,315.8 833.8,310.8 838.8,305.9 843.8,304.9 848.7,305.9 853.3,311.8 857.7,312.2 862.7,314.8 867.6,315.8 872.0,317.4 876.6,314.2 881.6,314.8 886.5,309.8 891.5,309.8 896.5,311.4 901.5,310.2 906.4,305.5 911.0,308.8 915.4,304.3 920.3,303.9 925.3,300.3 930.3,302.9 935.3,304.3 940.2,306.9 945.5,308.8" stroke="#111" stroke-width="1.6"/>
</g>
<path d="M683.5 35.4V451.4M683 36H946M945.5 35.4V451.4M683 450.8H946" stroke="#1a1a1a" stroke-width="1.25" fill="none" shape-rendering="auto"/>
<path d="M732.0 36.5v3.5M732.0 450.5v-3.5M780.5 36.5v3.5M780.5 450.5v-3.5M828.9 36.5v3.5M828.9 450.5v-3.5M877.4 36.5v3.5M877.4 450.5v-3.5M925.9 36.5v3.5M925.9 450.5v-3.5M684 83.4h3.5M945 83.4h-3.5M684 130.8h3.5M945 130.8h-3.5M684 178.2h3.5M945 178.2h-3.5M684 225.6h3.5M945 225.6h-3.5M684 273.0h3.5M945 273.0h-3.5M684 320.4h3.5M945 320.4h-3.5M684 367.8h3.5M945 367.8h-3.5M684 415.2h3.5M945 415.2h-3.5" stroke="#222" stroke-width="1.1" fill="none"/>
<text x="676.5" y="41.6" font-size="16" text-anchor="end">10</text>
<text x="676.5" y="89.0" font-size="16" text-anchor="end">8</text>
<text x="676.5" y="136.4" font-size="16" text-anchor="end">6</text>
<text x="676.5" y="183.8" font-size="16" text-anchor="end">4</text>
<text x="676.5" y="231.2" font-size="16" text-anchor="end">2</text>
<text x="676.5" y="278.6" font-size="16" text-anchor="end">0</text>
<text x="676.5" y="326.0" font-size="16" text-anchor="end">−2</text>
<text x="676.5" y="373.4" font-size="16" text-anchor="end">−4</text>
<text x="676.5" y="420.8" font-size="16" text-anchor="end">−6</text>
<text x="683.5" y="470.4" font-size="16" text-anchor="middle">−1</text>
<text x="732.0" y="470.4" font-size="16" text-anchor="middle">0</text>
<text x="780.5" y="470.4" font-size="16" text-anchor="middle">1</text>
<text x="828.9" y="470.4" font-size="16" text-anchor="middle">2</text>
<text x="877.4" y="470.4" font-size="16" text-anchor="middle">3</text>
<text x="925.9" y="470.4" font-size="16" text-anchor="middle">4</text>
<text x="629.5" y="19.5" font-size="23" font-weight="bold">c</text>
<text x="814.7" y="494.7" font-size="16" text-anchor="middle">Time delay, <tspan font-family="Liberation Serif">τ</tspan> (ps)</text>
<text x="693.5" y="95.0" font-size="15.8" fill="#6e1a1f"><tspan font-style="italic">q</tspan> = [0 −1 0]</text>
<text x="693.5" y="178.6" font-size="15.8" fill="#6e1a1f"><tspan font-style="italic">q</tspan> = [0 −0.6 0]</text>
<text x="693.5" y="264.8" font-size="15.8" fill="#6e1a1f"><tspan font-style="italic">q</tspan> = [0 −0.2 0]</text>
<rect x="755.5" y="410.5" width="117.5" height="34" fill="#fff" stroke="#222" stroke-width="1.1" shape-rendering="auto"/>
<path d="M763 420h35" stroke="#111" stroke-width="1.7"/>
<path d="M763 435h35" stroke="#eba832" stroke-width="1.9"/>
<text x="805.5" y="424.2" font-size="12.4">Experiment</text>
<text x="805.5" y="438.7" font-size="12.4">Simulation</text>
<text transform="translate(642.5,242.8) rotate(-90)" font-size="15.8" text-anchor="middle">δ<tspan font-style="italic">I</tspan>(<tspan font-family="Liberation Serif">τ</tspan> ;<tspan font-weight="bold">Q</tspan>) / <tspan font-style="italic">I</tspan><tspan font-size="11" dy="3">0</tspan><tspan dy="-3">(</tspan><tspan font-weight="bold">Q</tspan>) (%)</text>
</svg>
</body></html>
